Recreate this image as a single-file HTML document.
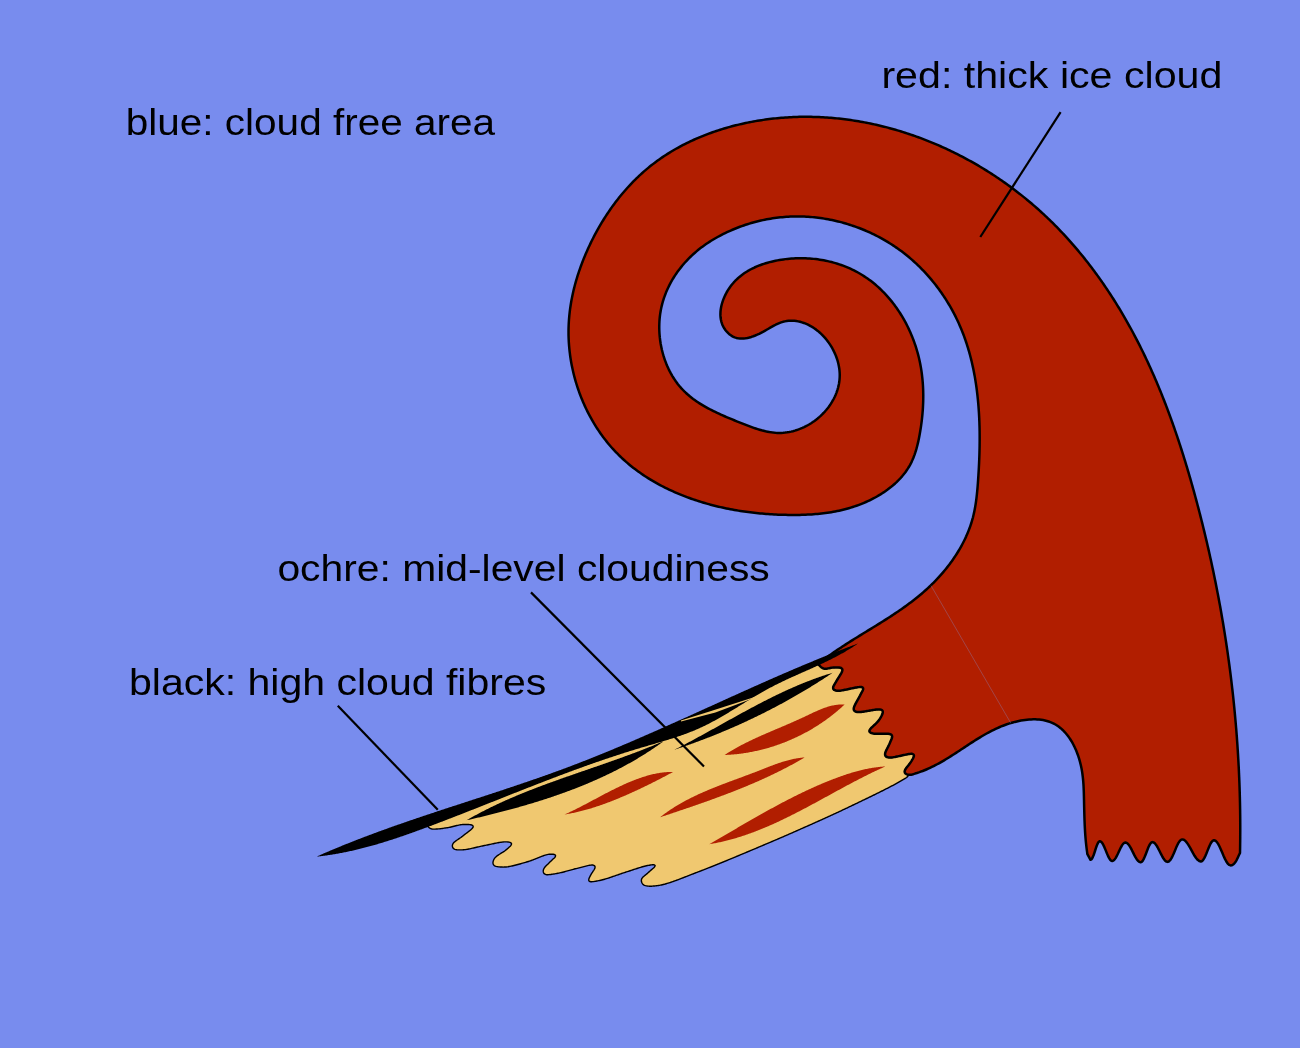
<!DOCTYPE html>
<html><head><meta charset="utf-8"><style>
html,body{margin:0;padding:0;background:#788cee;width:1300px;height:1048px;overflow:hidden}
svg{display:block;will-change:transform}
text{font-family:"Liberation Sans",sans-serif}
</style></head><body>
<svg width="1300" height="1048" viewBox="0 0 1300 1048">
<rect width="1300" height="1048" fill="#788cee"/>
<path d="M428.00,825.97 L428.91,825.55 L429.82,825.13 L430.72,824.70 L431.63,824.28 L432.53,823.86 L433.44,823.43 L434.34,823.00 L435.25,822.58 L436.15,822.15 L437.06,821.72 L437.96,821.29 L438.86,820.86 L439.77,820.43 L440.67,820.00 L441.57,819.57 L442.47,819.14 L443.38,818.71 L444.28,818.28 L445.18,817.85 L446.08,817.42 L446.99,816.99 L447.89,816.56 L448.79,816.13 L449.69,815.70 L450.60,815.27 L451.50,814.84 L452.40,814.41 L453.31,813.98 L454.21,813.55 L455.12,813.13 L456.02,812.70 L456.93,812.28 L457.83,811.85 L458.74,811.43 L459.64,811.01 L460.55,810.59 L461.46,810.17 L462.37,809.75 L463.27,809.33 L464.18,808.91 L465.09,808.50 L466.01,808.09 L466.92,807.67 L467.83,807.26 L468.74,806.86 L469.66,806.45 L470.57,806.04 L471.49,805.64 L472.40,805.24 L473.32,804.84 L474.24,804.44 L475.15,804.05 L476.07,803.66 L476.99,803.26 L477.92,802.88 L478.84,802.49 L479.76,802.10 L480.69,801.72 L481.61,801.34 L482.54,800.96 L483.46,800.59 L484.39,800.21 L485.32,799.84 L486.25,799.47 L487.17,799.10 L488.10,798.73 L489.03,798.36 L489.97,798.00 L490.90,797.63 L491.83,797.27 L492.76,796.91 L493.70,796.55 L494.63,796.19 L495.56,795.84 L496.50,795.48 L497.43,795.13 L498.37,794.77 L499.30,794.42 L500.24,794.07 L501.18,793.72 L502.11,793.37 L503.05,793.02 L503.99,792.68 L504.93,792.33 L505.87,791.98 L506.81,791.64 L507.74,791.29 L508.68,790.95 L509.62,790.61 L510.56,790.27 L511.50,789.93 L512.44,789.59 L513.38,789.25 L514.32,788.91 L515.27,788.57 L516.21,788.23 L517.15,787.89 L518.09,787.56 L519.03,787.22 L519.97,786.88 L520.91,786.55 L521.86,786.21 L522.80,785.88 L523.74,785.54 L524.68,785.21 L525.63,784.87 L526.57,784.54 L527.51,784.20 L528.45,783.87 L529.40,783.53 L530.34,783.20 L531.28,782.87 L532.22,782.53 L533.17,782.20 L534.11,781.87 L535.05,781.53 L536.00,781.20 L536.94,780.87 L537.88,780.53 L538.82,780.20 L539.77,779.86 L540.71,779.53 L541.65,779.19 L542.59,778.86 L543.53,778.52 L544.48,778.19 L545.42,777.85 L546.36,777.52 L547.30,777.18 L548.25,776.85 L549.19,776.52 L550.13,776.19 L551.08,775.86 L552.02,775.53 L552.97,775.20 L553.91,774.88 L554.86,774.55 L555.81,774.23 L556.75,773.91 L557.70,773.58 L558.65,773.26 L559.59,772.94 L560.54,772.62 L561.49,772.30 L562.43,771.98 L563.38,771.66 L564.33,771.34 L565.28,771.02 L566.23,770.71 L567.17,770.39 L568.12,770.07 L569.07,769.75 L570.02,769.43 L570.97,769.12 L571.92,768.80 L572.86,768.48 L573.81,768.16 L574.76,767.84 L575.71,767.52 L576.65,767.21 L577.60,766.89 L578.55,766.56 L579.50,766.24 L580.44,765.92 L581.39,765.60 L582.34,765.28 L583.28,764.95 L584.23,764.63 L585.17,764.30 L586.12,763.97 L587.06,763.65 L588.01,763.32 L588.95,762.99 L589.89,762.65 L590.84,762.32 L591.78,761.99 L592.72,761.65 L593.66,761.31 L594.60,760.97 L595.54,760.63 L596.48,760.29 L597.42,759.95 L598.36,759.60 L599.30,759.26 L600.24,758.91 L601.18,758.56 L602.11,758.21 L603.05,757.86 L603.99,757.51 L604.92,757.16 L605.86,756.81 L606.80,756.46 L607.73,756.11 L608.67,755.76 L609.61,755.41 L610.54,755.06 L611.48,754.70 L612.41,754.35 L613.35,754.00 L614.28,753.64 L615.22,753.29 L616.15,752.93 L617.09,752.58 L618.02,752.22 L618.96,751.87 L619.89,751.51 L620.82,751.15 L621.76,750.79 L622.69,750.43 L623.62,750.07 L624.56,749.71 L625.49,749.35 L626.42,748.99 L627.35,748.62 L628.28,748.26 L629.22,747.89 L630.15,747.53 L631.08,747.16 L632.01,746.79 L632.94,746.42 L633.86,746.05 L634.79,745.68 L635.72,745.31 L636.65,744.94 L637.58,744.56 L638.50,744.19 L639.43,743.81 L640.35,743.43 L641.28,743.05 L642.20,742.67 L643.13,742.29 L644.05,741.91 L644.98,741.52 L645.90,741.14 L646.82,740.75 L647.74,740.36 L648.66,739.97 L649.58,739.58 L650.50,739.18 L651.42,738.79 L652.34,738.39 L653.26,737.99 L654.17,737.59 L655.09,737.19 L656.00,736.79 L656.92,736.38 L657.83,735.97 L658.74,735.56 L659.65,735.15 L660.56,734.74 L661.47,734.32 L662.38,733.90 L663.28,733.47 L664.19,733.05 L665.09,732.62 L665.99,732.18 L666.89,731.75 L667.79,731.31 L668.69,730.86 L669.58,730.42 L670.48,729.97 L671.37,729.52 L672.26,729.07 L673.15,728.61 L674.04,728.16 L674.93,727.70 L675.82,727.24 L676.71,726.78 L677.59,726.31 L678.48,725.85 L679.36,725.38 L680.25,724.92 L681.13,724.45 L682.01,723.98 L682.90,723.51 L683.78,723.04 L684.66,722.57 L685.54,722.09 L686.42,721.62 L687.31,721.15 L688.19,720.68 L689.07,720.21 L689.95,719.73 L690.83,719.26 L691.71,718.79 L692.60,718.32 L693.48,717.85 L694.36,717.38 L695.25,716.91 L696.13,716.45 L697.02,715.98 L697.90,715.52 L698.79,715.05 L699.67,714.59 L700.56,714.13 L701.45,713.68 L702.34,713.22 L703.23,712.77 L704.13,712.32 L705.02,711.87 L705.91,711.42 L706.81,710.98 L707.71,710.54 L708.61,710.10 L709.51,709.66 L710.41,709.23 L711.31,708.80 L712.22,708.37 L713.12,707.95 L714.03,707.53 L714.94,707.11 L715.85,706.70 L716.76,706.28 L717.67,705.87 L718.58,705.46 L719.49,705.05 L720.41,704.64 L721.32,704.24 L722.24,703.84 L723.15,703.43 L724.07,703.03 L724.99,702.63 L725.90,702.24 L726.82,701.84 L727.74,701.45 L728.66,701.05 L729.58,700.66 L730.50,700.27 L731.42,699.88 L732.34,699.49 L733.27,699.10 L734.19,698.72 L735.11,698.33 L736.03,697.95 L736.96,697.56 L737.88,697.18 L738.80,696.80 L739.73,696.41 L740.65,696.03 L741.58,695.65 L742.50,695.27 L743.43,694.89 L744.35,694.51 L745.28,694.13 L746.20,693.76 L747.13,693.38 L748.06,693.00 L748.98,692.62 L749.91,692.25 L750.83,691.87 L751.76,691.49 L752.69,691.11 L753.61,690.74 L754.54,690.36 L755.46,689.98 L756.39,689.60 L757.32,689.23 L758.24,688.85 L759.17,688.47 L760.09,688.09 L761.02,687.71 L761.94,687.33 L762.87,686.95 L763.79,686.57 L764.72,686.19 L765.64,685.81 L766.57,685.43 L767.49,685.04 L768.41,684.66 L769.34,684.27 L770.26,683.88 L771.18,683.49 L772.09,683.09 L773.01,682.68 L773.92,682.27 L774.83,681.86 L775.74,681.44 L776.64,681.02 L777.55,680.59 L778.45,680.16 L779.35,679.73 L780.25,679.30 L781.15,678.86 L782.05,678.42 L782.95,677.98 L783.85,677.54 L784.74,677.10 L785.64,676.65 L786.54,676.21 L787.43,675.76 L788.33,675.32 L789.22,674.87 L790.12,674.43 L791.01,673.98 L791.91,673.54 L792.81,673.10 L793.71,672.66 L794.60,672.22 L795.50,671.78 L796.40,671.34 L797.30,670.91 L798.21,670.48 L799.11,670.05 L800.02,669.63 L800.92,669.21 L801.83,668.79 L802.75,668.38 L803.66,667.98 L804.58,667.58 L805.50,667.20 L806.43,666.81 L807.35,666.44 L808.29,666.09 L809.23,665.74 L810.17,665.41 L811.12,665.10 L812.08,664.82 L813.05,664.56 L814.02,664.34 L815.01,664.18 L816.00,664.08 L817.00,664.08 L817.99,664.22 L818.93,664.57 L819.76,665.11 L820.49,665.80 L821.14,666.56 L821.81,667.30 L822.57,667.95 L823.44,668.43 L824.40,668.69 L825.40,668.76 L826.40,668.70 L827.39,668.55 L828.37,668.36 L829.35,668.15 L830.32,667.94 L831.30,667.75 L832.29,667.60 L833.29,667.49 L834.28,667.43 L835.28,667.40 L836.28,667.39 L837.28,667.40 L838.28,667.43 L839.28,667.51 L840.27,667.67 L841.21,667.98 L842.01,668.57 L842.44,669.46 L842.43,670.46 L842.16,671.42 L841.75,672.33 L841.29,673.22 L840.78,674.08 L840.26,674.93 L839.72,675.78 L839.18,676.62 L838.64,677.46 L838.11,678.31 L837.59,679.16 L837.09,680.02 L836.59,680.89 L836.09,681.76 L835.58,682.62 L835.05,683.47 L834.53,684.32 L834.02,685.18 L833.55,686.06 L833.18,686.99 L833.03,687.97 L833.26,688.93 L833.89,689.70 L834.76,690.19 L835.71,690.50 L836.69,690.68 L837.68,690.77 L838.68,690.76 L839.68,690.69 L840.67,690.58 L841.66,690.43 L842.65,690.27 L843.63,690.09 L844.62,689.90 L845.60,689.70 L846.57,689.49 L847.55,689.29 L848.53,689.08 L849.51,688.87 L850.49,688.65 L851.46,688.44 L852.44,688.24 L853.42,688.03 L854.40,687.84 L855.38,687.65 L856.37,687.47 L857.35,687.30 L858.34,687.16 L859.34,687.04 L860.33,686.98 L861.33,687.01 L862.30,687.23 L863.07,687.84 L863.28,688.80 L863.05,689.77 L862.64,690.68 L862.17,691.56 L861.68,692.44 L861.21,693.32 L860.76,694.21 L860.30,695.10 L859.85,695.99 L859.37,696.87 L858.89,697.75 L858.40,698.62 L857.91,699.49 L857.41,700.36 L856.92,701.23 L856.43,702.10 L855.95,702.98 L855.49,703.86 L855.03,704.76 L854.60,705.66 L854.21,706.58 L853.88,707.52 L853.66,708.50 L853.66,709.49 L854.00,710.42 L854.68,711.15 L855.55,711.63 L856.51,711.92 L857.49,712.08 L858.49,712.14 L859.49,712.12 L860.49,712.04 L861.48,711.94 L862.47,711.80 L863.46,711.66 L864.45,711.50 L865.44,711.34 L866.42,711.17 L867.41,710.99 L868.39,710.82 L869.38,710.64 L870.36,710.47 L871.35,710.30 L872.33,710.14 L873.32,709.98 L874.31,709.83 L875.30,709.69 L876.29,709.57 L877.29,709.47 L878.29,709.40 L879.29,709.38 L880.28,709.44 L881.26,709.65 L882.13,710.12 L882.72,710.92 L882.88,711.90 L882.75,712.88 L882.46,713.84 L882.08,714.77 L881.65,715.67 L881.19,716.56 L880.70,717.43 L880.20,718.29 L879.67,719.14 L879.11,719.97 L878.51,720.77 L877.87,721.54 L877.19,722.28 L876.49,722.99 L875.78,723.69 L875.05,724.38 L874.32,725.06 L873.58,725.74 L872.85,726.41 L872.12,727.10 L871.41,727.80 L870.72,728.52 L870.08,729.29 L869.55,730.14 L869.32,731.10 L869.67,732.02 L870.44,732.64 L871.35,733.04 L872.31,733.32 L873.29,733.52 L874.28,733.67 L875.28,733.75 L876.28,733.79 L877.28,733.80 L878.28,733.79 L879.28,733.76 L880.27,733.74 L881.27,733.71 L882.27,733.68 L883.27,733.65 L884.27,733.63 L885.27,733.63 L886.27,733.63 L887.27,733.67 L888.27,733.74 L889.26,733.87 L890.23,734.10 L891.14,734.51 L891.85,735.21 L892.18,736.14 L892.15,737.13 L891.89,738.10 L891.54,739.03 L891.15,739.95 L890.75,740.87 L890.36,741.79 L889.98,742.72 L889.59,743.64 L889.17,744.55 L888.73,745.45 L888.28,746.34 L887.83,747.23 L887.37,748.12 L886.92,749.01 L886.47,749.91 L886.05,750.81 L885.65,751.73 L885.31,752.67 L885.06,753.64 L885.00,754.63 L885.24,755.59 L885.83,756.39 L886.67,756.93 L887.61,757.27 L888.59,757.46 L889.58,757.55 L890.58,757.55 L891.58,757.49 L892.57,757.37 L893.56,757.22 L894.54,757.04 L895.53,756.86 L896.51,756.66 L897.49,756.45 L898.46,756.24 L899.44,756.02 L900.41,755.80 L901.39,755.58 L902.37,755.36 L903.34,755.14 L904.32,754.93 L905.30,754.72 L906.28,754.52 L907.26,754.33 L908.24,754.16 L909.23,754.00 L910.22,753.88 L911.22,753.81 L912.22,753.85 L913.18,754.12 L913.88,754.81 L914.01,755.78 L913.78,756.75 L913.38,757.67 L912.91,758.55 L912.43,759.42 L911.93,760.29 L911.42,761.15 L910.88,762.00 L910.32,762.82 L909.72,763.63 L909.11,764.42 L908.49,765.20 L907.86,765.98 L907.24,766.76 L906.62,767.55 L906.03,768.35 L905.47,769.19 L904.99,770.06 L904.66,771.00 L904.67,771.99 L905.16,772.84 L905.97,773.42 L906.86,773.87 L907.71,774.39 L908.23,775.22 L907.96,776.16 L907.28,776.89 L906.50,777.51 L905.67,778.07 L904.82,778.59 L903.96,779.10 L903.09,779.60 L902.22,780.10 L901.36,780.60 L900.49,781.11 L899.63,781.61 L898.77,782.12 L897.90,782.62 L897.03,783.11 L896.16,783.60 L895.28,784.08 L894.41,784.56 L893.53,785.03 L892.64,785.51 L891.76,785.98 L890.88,786.44 L889.99,786.91 L889.10,787.37 L888.21,787.83 L887.33,788.28 L886.44,788.74 L885.54,789.19 L884.65,789.65 L883.76,790.10 L882.87,790.55 L881.97,791.00 L881.08,791.45 L880.19,791.89 L879.29,792.34 L878.39,792.78 L877.50,793.23 L876.60,793.67 L875.71,794.11 L874.81,794.56 L873.91,795.00 L873.01,795.44 L872.11,795.88 L871.22,796.32 L870.32,796.75 L869.42,797.19 L868.52,797.63 L867.62,798.07 L866.72,798.50 L865.82,798.94 L864.92,799.37 L864.02,799.81 L863.12,800.24 L862.22,800.68 L861.32,801.11 L860.41,801.54 L859.51,801.98 L858.61,802.41 L857.71,802.84 L856.81,803.27 L855.91,803.71 L855.00,804.14 L854.10,804.57 L853.20,805.00 L852.30,805.43 L851.39,805.86 L850.49,806.29 L849.59,806.72 L848.69,807.15 L847.78,807.58 L846.88,808.01 L845.98,808.44 L845.08,808.87 L844.17,809.30 L843.27,809.73 L842.36,810.16 L841.46,810.59 L840.56,811.01 L839.65,811.44 L838.75,811.86 L837.84,812.29 L836.93,812.71 L836.03,813.13 L835.12,813.55 L834.21,813.97 L833.30,814.39 L832.40,814.81 L831.49,815.23 L830.58,815.64 L829.67,816.06 L828.76,816.47 L827.85,816.89 L826.94,817.30 L826.03,817.72 L825.12,818.13 L824.21,818.54 L823.30,818.96 L822.38,819.37 L821.47,819.78 L820.56,820.19 L819.65,820.60 L818.74,821.01 L817.82,821.42 L816.91,821.82 L816.00,822.23 L815.08,822.64 L814.17,823.05 L813.26,823.45 L812.34,823.86 L811.43,824.27 L810.52,824.67 L809.60,825.08 L808.69,825.49 L807.77,825.89 L806.86,826.30 L805.95,826.70 L805.03,827.11 L804.12,827.51 L803.20,827.92 L802.29,828.32 L801.37,828.73 L800.46,829.13 L799.55,829.54 L798.63,829.94 L797.72,830.35 L796.80,830.75 L795.89,831.16 L794.97,831.56 L794.06,831.97 L793.14,832.37 L792.23,832.77 L791.31,833.18 L790.40,833.58 L789.48,833.98 L788.57,834.38 L787.65,834.78 L786.73,835.18 L785.82,835.58 L784.90,835.98 L783.98,836.38 L783.07,836.78 L782.15,837.18 L781.23,837.57 L780.31,837.97 L779.39,838.36 L778.47,838.76 L777.55,839.15 L776.64,839.55 L775.72,839.94 L774.80,840.33 L773.88,840.72 L772.96,841.11 L772.03,841.50 L771.11,841.89 L770.19,842.28 L769.27,842.67 L768.35,843.06 L767.43,843.45 L766.51,843.84 L765.59,844.23 L764.67,844.62 L763.75,845.01 L762.82,845.40 L761.90,845.79 L760.98,846.18 L760.06,846.57 L759.14,846.96 L758.22,847.35 L757.30,847.74 L756.38,848.13 L755.46,848.52 L754.53,848.90 L753.61,849.29 L752.69,849.68 L751.77,850.07 L750.85,850.46 L749.93,850.85 L749.01,851.24 L748.08,851.63 L747.16,852.01 L746.24,852.40 L745.32,852.79 L744.40,853.18 L743.48,853.56 L742.55,853.95 L741.63,854.34 L740.71,854.72 L739.79,855.11 L738.86,855.49 L737.94,855.88 L737.02,856.26 L736.09,856.65 L735.17,857.03 L734.25,857.42 L733.32,857.80 L732.40,858.19 L731.48,858.57 L730.55,858.95 L729.63,859.33 L728.71,859.72 L727.78,860.10 L726.86,860.48 L725.93,860.86 L725.01,861.24 L724.08,861.62 L723.16,862.00 L722.23,862.38 L721.30,862.75 L720.38,863.13 L719.45,863.51 L718.53,863.88 L717.60,864.26 L716.67,864.64 L715.74,865.01 L714.82,865.38 L713.89,865.76 L712.96,866.13 L712.03,866.50 L711.10,866.87 L710.17,867.24 L709.24,867.61 L708.31,867.97 L707.38,868.34 L706.45,868.70 L705.52,869.07 L704.59,869.43 L703.66,869.79 L702.72,870.15 L701.79,870.51 L700.86,870.87 L699.92,871.22 L698.99,871.58 L698.05,871.94 L697.12,872.29 L696.18,872.65 L695.25,873.01 L694.32,873.37 L693.39,873.74 L692.46,874.10 L691.52,874.46 L690.59,874.83 L689.66,875.19 L688.73,875.56 L687.80,875.93 L686.87,876.29 L685.94,876.66 L685.01,877.02 L684.08,877.39 L683.14,877.75 L682.21,878.11 L681.28,878.47 L680.35,878.83 L679.41,879.18 L678.48,879.54 L677.54,879.89 L676.60,880.24 L675.66,880.58 L674.72,880.92 L673.78,881.26 L672.84,881.59 L671.89,881.92 L670.94,882.24 L670.00,882.55 L669.04,882.86 L668.09,883.16 L667.13,883.45 L666.17,883.73 L665.21,884.01 L664.25,884.26 L663.28,884.51 L662.30,884.74 L661.33,884.96 L660.35,885.16 L659.36,885.34 L658.38,885.50 L657.39,885.64 L656.40,885.77 L655.40,885.89 L654.41,885.99 L653.41,886.07 L652.41,886.14 L651.41,886.18 L650.41,886.21 L649.41,886.20 L648.42,886.15 L647.42,886.06 L646.43,885.90 L645.46,885.66 L644.52,885.32 L643.65,884.83 L642.88,884.19 L642.25,883.42 L641.78,882.54 L641.46,881.60 L641.34,880.61 L641.45,879.61 L641.79,878.68 L642.33,877.84 L642.99,877.09 L643.72,876.41 L644.49,875.77 L645.27,875.14 L646.05,874.51 L646.81,873.87 L647.56,873.21 L648.31,872.54 L649.05,871.87 L649.80,871.21 L650.55,870.55 L651.31,869.90 L652.06,869.24 L652.81,868.58 L653.55,867.90 L654.25,867.18 L654.85,866.39 L655.10,865.45 L654.38,864.83 L653.39,864.72 L652.39,864.77 L651.40,864.89 L650.41,865.03 L649.43,865.20 L648.44,865.38 L647.46,865.56 L646.48,865.77 L645.50,865.99 L644.53,866.23 L643.57,866.48 L642.60,866.75 L641.64,867.03 L640.68,867.32 L639.73,867.61 L638.77,867.91 L637.82,868.21 L636.87,868.52 L635.92,868.83 L634.97,869.14 L634.02,869.46 L633.07,869.77 L632.12,870.08 L631.17,870.40 L630.22,870.71 L629.27,871.02 L628.32,871.33 L627.37,871.63 L626.41,871.93 L625.46,872.24 L624.51,872.55 L623.56,872.86 L622.61,873.17 L621.66,873.49 L620.72,873.82 L619.77,874.14 L618.83,874.47 L617.88,874.80 L616.94,875.13 L615.99,875.46 L615.05,875.79 L614.11,876.12 L613.16,876.45 L612.22,876.78 L611.27,877.10 L610.32,877.42 L609.37,877.74 L608.42,878.05 L607.47,878.36 L606.52,878.66 L605.56,878.95 L604.61,879.24 L603.64,879.52 L602.68,879.78 L601.71,880.03 L600.74,880.26 L599.76,880.47 L598.78,880.67 L597.80,880.86 L596.82,881.04 L595.83,881.22 L594.84,881.38 L593.86,881.53 L592.86,881.65 L591.87,881.72 L590.87,881.70 L589.89,881.52 L589.06,880.97 L588.72,880.06 L588.84,879.07 L589.18,878.13 L589.59,877.22 L590.04,876.33 L590.50,875.44 L590.98,874.56 L591.49,873.70 L592.02,872.85 L592.57,872.02 L593.13,871.19 L593.69,870.36 L594.22,869.51 L594.69,868.63 L595.02,867.69 L595.05,866.70 L594.59,865.83 L593.76,865.29 L592.79,865.05 L591.79,865.02 L590.79,865.10 L589.80,865.25 L588.82,865.43 L587.84,865.64 L586.87,865.87 L585.90,866.11 L584.93,866.36 L583.96,866.61 L583.00,866.86 L582.03,867.12 L581.06,867.37 L580.09,867.61 L579.12,867.86 L578.15,868.09 L577.18,868.33 L576.21,868.56 L575.23,868.80 L574.27,869.05 L573.30,869.31 L572.33,869.57 L571.37,869.83 L570.41,870.10 L569.44,870.37 L568.48,870.64 L567.52,870.90 L566.55,871.17 L565.59,871.44 L564.62,871.70 L563.66,871.95 L562.69,872.20 L561.72,872.45 L560.74,872.68 L559.77,872.90 L558.79,873.11 L557.81,873.30 L556.83,873.48 L555.84,873.65 L554.85,873.82 L553.87,873.98 L552.88,874.14 L551.89,874.30 L550.90,874.44 L549.91,874.57 L548.92,874.67 L547.92,874.73 L546.92,874.71 L545.93,874.57 L544.99,874.24 L544.19,873.65 L543.62,872.84 L543.31,871.89 L543.24,870.89 L543.39,869.91 L543.72,868.97 L544.21,868.09 L544.79,867.28 L545.44,866.52 L546.12,865.79 L546.83,865.08 L547.55,864.39 L548.27,863.70 L548.99,863.00 L549.71,862.30 L550.41,861.60 L551.12,860.89 L551.84,860.19 L552.57,859.51 L553.30,858.83 L554.03,858.15 L554.73,857.43 L555.33,856.63 L555.57,855.68 L555.04,854.87 L554.14,854.46 L553.16,854.27 L552.16,854.18 L551.16,854.16 L550.16,854.18 L549.17,854.27 L548.18,854.41 L547.19,854.60 L546.22,854.84 L545.26,855.11 L544.31,855.42 L543.36,855.75 L542.43,856.09 L541.49,856.45 L540.56,856.81 L539.63,857.18 L538.71,857.56 L537.78,857.94 L536.85,858.32 L535.93,858.69 L535.00,859.07 L534.07,859.44 L533.14,859.80 L532.21,860.16 L531.27,860.51 L530.33,860.84 L529.38,861.16 L528.43,861.46 L527.47,861.76 L526.51,862.04 L525.55,862.32 L524.59,862.61 L523.63,862.89 L522.67,863.17 L521.71,863.44 L520.75,863.72 L519.79,863.99 L518.83,864.26 L517.86,864.53 L516.90,864.79 L515.93,865.04 L514.96,865.29 L513.99,865.53 L513.02,865.76 L512.04,865.98 L511.06,866.18 L510.08,866.37 L509.09,866.55 L508.11,866.71 L507.12,866.84 L506.12,866.94 L505.12,867.02 L504.13,867.06 L503.13,867.08 L502.13,867.07 L501.13,867.04 L500.13,866.98 L499.13,866.90 L498.14,866.78 L497.15,866.61 L496.18,866.38 L495.24,866.05 L494.36,865.58 L493.63,864.90 L493.16,864.02 L492.97,863.05 L493.02,862.05 L493.24,861.07 L493.57,860.13 L494.01,859.23 L494.54,858.38 L495.16,857.60 L495.86,856.89 L496.62,856.24 L497.41,855.63 L498.23,855.06 L499.07,854.51 L499.92,853.98 L500.77,853.46 L501.62,852.93 L502.47,852.40 L503.31,851.87 L504.14,851.31 L504.96,850.73 L505.75,850.12 L506.53,849.49 L507.29,848.85 L508.05,848.19 L508.80,847.53 L509.54,846.86 L510.25,846.16 L510.91,845.40 L511.41,844.54 L511.48,843.56 L510.88,842.80 L509.98,842.37 L509.01,842.13 L508.02,841.98 L507.03,841.89 L506.03,841.84 L505.03,841.85 L504.03,841.89 L503.03,841.97 L502.04,842.08 L501.05,842.21 L500.06,842.37 L499.07,842.53 L498.09,842.71 L497.11,842.90 L496.13,843.09 L495.15,843.29 L494.17,843.50 L493.19,843.71 L492.21,843.92 L491.23,844.13 L490.26,844.34 L489.28,844.55 L488.30,844.75 L487.32,844.96 L486.34,845.16 L485.36,845.35 L484.38,845.55 L483.40,845.74 L482.42,845.94 L481.44,846.15 L480.47,846.37 L479.49,846.59 L478.52,846.82 L477.54,847.05 L476.57,847.28 L475.60,847.51 L474.62,847.74 L473.65,847.97 L472.67,848.19 L471.70,848.41 L470.72,848.62 L469.74,848.83 L468.76,849.02 L467.78,849.20 L466.79,849.36 L465.80,849.51 L464.81,849.63 L463.81,849.72 L462.82,849.80 L461.82,849.85 L460.82,849.88 L459.82,849.90 L458.82,849.90 L457.82,849.87 L456.82,849.78 L455.84,849.62 L454.88,849.34 L453.99,848.90 L453.23,848.24 L452.69,847.40 L452.40,846.45 L452.36,845.46 L452.59,844.49 L453.04,843.60 L453.65,842.81 L454.36,842.11 L455.13,841.47 L455.93,840.86 L456.74,840.29 L457.57,839.72 L458.40,839.16 L459.23,838.61 L460.06,838.04 L460.88,837.47 L461.68,836.88 L462.48,836.28 L463.26,835.66 L464.05,835.03 L464.83,834.41 L465.62,833.80 L466.41,833.19 L467.21,832.58 L468.00,831.98 L468.80,831.36 L469.58,830.75 L470.36,830.12 L471.12,829.47 L471.85,828.79 L472.53,828.05 L473.07,827.22 L473.18,826.24 L472.61,825.46 L471.71,825.03 L470.74,824.80 L469.75,824.66 L468.75,824.57 L467.75,824.52 L466.75,824.49 L465.75,824.47 L464.75,824.48 L463.75,824.51 L462.75,824.56 L461.76,824.64 L460.77,824.76 L459.78,824.92 L458.79,825.10 L457.82,825.31 L456.84,825.54 L455.87,825.78 L454.90,826.02 L453.93,826.27 L452.96,826.52 L451.99,826.76 L451.02,826.99 L450.05,827.21 L449.07,827.41 L448.08,827.59 L447.10,827.75 L446.11,827.90 L445.12,828.04 L444.13,828.18 L443.14,828.32 L442.14,828.45 L441.15,828.58 L440.16,828.70 L439.17,828.82 L438.17,828.92 L437.18,829.00 L436.18,829.07 L435.18,829.12 L434.18,829.12 L433.18,829.08 L432.19,828.97 L431.21,828.75 L430.28,828.38 L429.42,827.87 L428.64,827.25 L427.90,826.58Z" fill="#f0c870" stroke="#000" stroke-width="1.4"/>
<path d="M724.60,755.00 L725.44,754.45 L726.28,753.90 L727.13,753.36 L727.98,752.82 L728.83,752.29 L729.69,751.77 L730.54,751.25 L731.40,750.73 L732.26,750.22 L733.13,749.71 L734.00,749.21 L734.87,748.71 L735.74,748.22 L736.61,747.73 L737.49,747.24 L738.37,746.76 L739.25,746.28 L740.13,745.81 L741.02,745.34 L741.90,744.87 L742.79,744.41 L743.68,743.95 L744.58,743.50 L745.47,743.04 L746.37,742.59 L747.27,742.15 L748.17,741.70 L749.07,741.26 L749.97,740.83 L750.88,740.39 L751.79,739.96 L752.69,739.53 L753.60,739.10 L754.52,738.68 L755.43,738.26 L756.34,737.84 L757.26,737.42 L758.17,737.00 L759.09,736.59 L760.01,736.18 L760.93,735.77 L761.85,735.36 L762.77,734.95 L763.70,734.54 L764.62,734.14 L765.54,733.74 L766.47,733.33 L767.40,732.93 L768.32,732.53 L769.25,732.13 L770.18,731.73 L771.11,731.34 L772.04,730.94 L772.97,730.54 L773.90,730.15 L774.83,729.75 L775.76,729.36 L776.69,728.96 L777.62,728.56 L778.56,728.17 L779.49,727.77 L780.42,727.38 L781.35,726.98 L782.29,726.59 L783.22,726.19 L784.15,725.79 L785.08,725.39 L786.02,724.99 L786.95,724.59 L787.88,724.19 L788.81,723.79 L789.74,723.39 L790.67,722.99 L791.60,722.58 L792.53,722.17 L793.46,721.76 L794.39,721.35 L795.32,720.94 L796.25,720.53 L797.18,720.11 L798.10,719.70 L799.03,719.28 L799.96,718.86 L800.88,718.43 L801.80,718.01 L802.73,717.58 L803.65,717.15 L804.57,716.71 L805.49,716.28 L806.41,715.84 L807.32,715.40 L808.24,714.97 L809.16,714.53 L810.07,714.09 L810.99,713.66 L811.91,713.23 L812.82,712.80 L813.74,712.37 L814.65,711.95 L815.57,711.54 L816.48,711.13 L817.40,710.72 L818.32,710.32 L819.24,709.93 L820.15,709.55 L821.07,709.18 L821.99,708.82 L822.91,708.46 L823.84,708.12 L824.76,707.79 L825.68,707.47 L826.61,707.16 L827.54,706.86 L828.47,706.58 L829.40,706.31 L830.33,706.06 L831.26,705.82 L832.20,705.60 L833.14,705.40 L834.08,705.21 L835.02,705.05 L835.97,704.90 L836.92,704.77 L837.87,704.66 L838.82,704.57 L839.77,704.50 L840.73,704.45 L841.70,704.43 L842.66,704.43 L843.63,704.45 L844.60,704.50 L843.87,705.19 L843.14,705.87 L842.40,706.54 L841.66,707.22 L840.92,707.88 L840.17,708.55 L839.42,709.21 L838.66,709.87 L837.90,710.52 L837.13,711.17 L836.37,711.81 L835.59,712.45 L834.82,713.09 L834.04,713.72 L833.25,714.35 L832.47,714.97 L831.68,715.59 L830.88,716.20 L830.08,716.81 L829.28,717.42 L828.47,718.02 L827.67,718.62 L826.85,719.21 L826.04,719.80 L825.22,720.39 L824.39,720.97 L823.57,721.55 L822.74,722.12 L821.91,722.69 L821.07,723.25 L820.23,723.81 L819.39,724.36 L818.54,724.91 L817.69,725.46 L816.84,726.00 L815.99,726.54 L815.13,727.07 L814.27,727.60 L813.40,728.12 L812.54,728.64 L811.67,729.15 L810.79,729.66 L809.92,730.17 L809.04,730.67 L808.16,731.16 L807.27,731.65 L806.39,732.14 L805.50,732.62 L804.61,733.10 L803.71,733.57 L802.81,734.04 L801.92,734.50 L801.01,734.96 L800.11,735.41 L799.20,735.86 L798.29,736.31 L797.38,736.75 L796.47,737.18 L795.55,737.61 L794.63,738.03 L793.71,738.45 L792.79,738.87 L791.86,739.28 L790.93,739.69 L790.00,740.09 L789.07,740.48 L788.14,740.87 L787.20,741.26 L786.26,741.64 L785.32,742.01 L784.38,742.39 L783.44,742.75 L782.49,743.11 L781.55,743.47 L780.60,743.82 L779.65,744.16 L778.69,744.50 L777.74,744.84 L776.78,745.17 L775.83,745.50 L774.87,745.82 L773.91,746.13 L772.94,746.44 L771.98,746.75 L771.01,747.05 L770.05,747.34 L769.08,747.63 L768.11,747.91 L767.14,748.19 L766.17,748.46 L765.19,748.73 L764.22,749.00 L763.24,749.25 L762.27,749.51 L761.29,749.75 L760.31,749.99 L759.33,750.23 L758.35,750.46 L757.37,750.69 L756.38,750.91 L755.40,751.12 L754.41,751.33 L753.43,751.53 L752.44,751.73 L751.45,751.92 L750.46,752.11 L749.47,752.29 L748.48,752.47 L747.49,752.64 L746.50,752.80 L745.51,752.96 L744.52,753.12 L743.53,753.27 L742.53,753.41 L741.54,753.55 L740.54,753.68 L739.55,753.80 L738.55,753.92 L737.56,754.04 L736.56,754.15 L735.57,754.25 L734.57,754.35 L733.57,754.44 L732.58,754.52 L731.58,754.60 L730.58,754.68 L729.59,754.75 L728.59,754.81 L727.59,754.87 L726.59,754.92 L725.60,754.96 L724.60,755.00Z" fill="#b11e00"/>
<path d="M660.00,817.30 L660.80,816.66 L661.61,816.04 L662.42,815.41 L663.23,814.80 L664.05,814.19 L664.87,813.59 L665.69,812.99 L666.52,812.40 L667.35,811.81 L668.18,811.23 L669.01,810.66 L669.85,810.09 L670.69,809.53 L671.53,808.98 L672.38,808.43 L673.23,807.88 L674.08,807.34 L674.93,806.81 L675.79,806.28 L676.65,805.76 L677.51,805.24 L678.37,804.72 L679.24,804.21 L680.11,803.71 L680.98,803.21 L681.85,802.72 L682.73,802.23 L683.61,801.74 L684.49,801.26 L685.37,800.79 L686.26,800.32 L687.15,799.85 L688.04,799.39 L688.93,798.93 L689.82,798.47 L690.72,798.02 L691.61,797.57 L692.51,797.13 L693.42,796.69 L694.32,796.25 L695.23,795.82 L696.13,795.39 L697.04,794.97 L697.95,794.54 L698.86,794.12 L699.78,793.71 L700.69,793.30 L701.61,792.89 L702.53,792.48 L703.45,792.07 L704.37,791.67 L705.30,791.27 L706.22,790.88 L707.15,790.49 L708.07,790.09 L709.00,789.71 L709.93,789.32 L710.86,788.94 L711.80,788.56 L712.73,788.18 L713.67,787.80 L714.60,787.42 L715.54,787.05 L716.48,786.68 L717.42,786.31 L718.36,785.94 L719.30,785.57 L720.24,785.21 L721.18,784.84 L722.12,784.48 L723.07,784.12 L724.01,783.76 L724.96,783.40 L725.91,783.04 L726.85,782.68 L727.80,782.33 L728.75,781.97 L729.70,781.62 L730.65,781.26 L731.60,780.91 L732.55,780.55 L733.50,780.20 L734.45,779.85 L735.40,779.50 L736.35,779.14 L737.30,778.79 L738.25,778.44 L739.21,778.09 L740.16,777.74 L741.11,777.38 L742.06,777.03 L743.02,776.68 L743.97,776.32 L744.92,775.97 L745.87,775.62 L746.83,775.26 L747.78,774.90 L748.73,774.55 L749.68,774.19 L750.63,773.83 L751.58,773.47 L752.53,773.11 L753.48,772.75 L754.43,772.39 L755.38,772.02 L756.33,771.65 L757.28,771.29 L758.23,770.92 L759.18,770.55 L760.12,770.17 L761.07,769.80 L762.02,769.43 L762.96,769.06 L763.91,768.68 L764.85,768.31 L765.80,767.94 L766.74,767.57 L767.69,767.20 L768.63,766.83 L769.57,766.47 L770.52,766.11 L771.46,765.75 L772.40,765.39 L773.35,765.04 L774.29,764.69 L775.23,764.34 L776.18,764.00 L777.12,763.67 L778.06,763.34 L779.01,763.01 L779.95,762.69 L780.89,762.38 L781.83,762.07 L782.78,761.77 L783.72,761.48 L784.67,761.20 L785.61,760.92 L786.56,760.65 L787.50,760.39 L788.45,760.13 L789.39,759.89 L790.34,759.66 L791.28,759.43 L792.23,759.22 L793.18,759.01 L794.13,758.82 L795.08,758.64 L796.03,758.47 L796.97,758.31 L797.93,758.16 L798.88,758.03 L799.83,757.90 L800.78,757.79 L801.73,757.70 L802.69,757.62 L803.64,757.55 L804.60,757.50 L803.74,758.01 L802.88,758.52 L802.02,759.02 L801.15,759.52 L800.29,760.02 L799.42,760.52 L798.55,761.01 L797.68,761.50 L796.81,761.99 L795.93,762.48 L795.06,762.97 L794.19,763.45 L793.31,763.93 L792.43,764.41 L791.55,764.89 L790.67,765.36 L789.79,765.83 L788.90,766.30 L788.02,766.77 L787.13,767.24 L786.25,767.70 L785.36,768.16 L784.47,768.62 L783.58,769.08 L782.69,769.54 L781.79,769.99 L780.90,770.44 L780.00,770.89 L779.11,771.34 L778.21,771.78 L777.31,772.23 L776.41,772.67 L775.51,773.11 L774.61,773.55 L773.70,773.98 L772.80,774.42 L771.89,774.85 L770.99,775.28 L770.08,775.71 L769.17,776.14 L768.26,776.56 L767.35,776.99 L766.44,777.41 L765.53,777.83 L764.61,778.25 L763.70,778.66 L762.78,779.08 L761.87,779.49 L760.95,779.90 L760.03,780.31 L759.11,780.72 L758.19,781.13 L757.27,781.53 L756.35,781.93 L755.43,782.34 L754.51,782.74 L753.58,783.13 L752.66,783.53 L751.73,783.93 L750.80,784.32 L749.88,784.71 L748.95,785.10 L748.02,785.49 L747.09,785.88 L746.16,786.27 L745.23,786.65 L744.30,787.04 L743.37,787.42 L742.43,787.80 L741.50,788.18 L740.57,788.56 L739.63,788.94 L738.70,789.31 L737.76,789.69 L736.82,790.06 L735.89,790.43 L734.95,790.80 L734.01,791.17 L733.07,791.54 L732.13,791.90 L731.19,792.27 L730.25,792.63 L729.31,793.00 L728.37,793.36 L727.43,793.72 L726.48,794.08 L725.54,794.44 L724.60,794.80 L723.65,795.15 L722.71,795.51 L721.76,795.86 L720.82,796.21 L719.87,796.57 L718.93,796.92 L717.98,797.27 L717.03,797.62 L716.09,797.96 L715.14,798.31 L714.19,798.66 L713.24,799.00 L712.29,799.35 L711.35,799.69 L710.40,800.03 L709.45,800.38 L708.50,800.72 L707.55,801.06 L706.60,801.40 L705.65,801.73 L704.70,802.07 L703.75,802.41 L702.80,802.74 L701.84,803.08 L700.89,803.41 L699.94,803.75 L698.99,804.08 L698.04,804.41 L697.09,804.74 L696.14,805.08 L695.18,805.41 L694.23,805.74 L693.28,806.06 L692.33,806.39 L691.37,806.72 L690.42,807.05 L689.47,807.38 L688.52,807.70 L687.57,808.03 L686.61,808.35 L685.66,808.68 L684.71,809.00 L683.76,809.32 L682.80,809.65 L681.85,809.97 L680.90,810.29 L679.95,810.61 L679.00,810.94 L678.05,811.26 L677.09,811.58 L676.14,811.90 L675.19,812.22 L674.24,812.54 L673.29,812.86 L672.34,813.18 L671.39,813.49 L670.44,813.81 L669.49,814.13 L668.54,814.45 L667.59,814.77 L666.64,815.08 L665.69,815.40 L664.74,815.72 L663.79,816.03 L662.84,816.35 L661.90,816.67 L660.95,816.98 L660.00,817.30Z" fill="#b11e00"/>
<path d="M564.50,814.50 L565.39,814.10 L566.29,813.70 L567.18,813.29 L568.08,812.88 L568.97,812.46 L569.87,812.04 L570.76,811.62 L571.66,811.19 L572.55,810.76 L573.45,810.32 L574.34,809.88 L575.24,809.44 L576.14,808.99 L577.03,808.55 L577.93,808.09 L578.82,807.64 L579.72,807.18 L580.62,806.72 L581.51,806.26 L582.41,805.80 L583.31,805.33 L584.21,804.86 L585.10,804.39 L586.00,803.92 L586.90,803.44 L587.80,802.97 L588.70,802.49 L589.60,802.01 L590.50,801.54 L591.40,801.06 L592.30,800.58 L593.20,800.09 L594.11,799.61 L595.01,799.13 L595.91,798.65 L596.81,798.17 L597.72,797.68 L598.62,797.20 L599.53,796.72 L600.43,796.24 L601.34,795.76 L602.25,795.28 L603.15,794.80 L604.06,794.32 L604.97,793.85 L605.88,793.37 L606.79,792.90 L607.70,792.43 L608.61,791.96 L609.52,791.49 L610.43,791.02 L611.35,790.56 L612.26,790.10 L613.18,789.64 L614.09,789.18 L615.01,788.72 L615.93,788.27 L616.85,787.82 L617.76,787.38 L618.68,786.94 L619.60,786.50 L620.53,786.06 L621.45,785.63 L622.37,785.20 L623.30,784.78 L624.22,784.36 L625.15,783.94 L626.07,783.53 L627.00,783.12 L627.93,782.72 L628.86,782.32 L629.79,781.93 L630.73,781.54 L631.66,781.16 L632.59,780.79 L633.53,780.41 L634.47,780.05 L635.40,779.69 L636.34,779.33 L637.28,778.98 L638.22,778.64 L639.17,778.31 L640.11,777.98 L641.05,777.65 L642.00,777.34 L642.95,777.03 L643.90,776.72 L644.85,776.43 L645.80,776.14 L646.75,775.86 L647.70,775.59 L648.66,775.32 L649.61,775.06 L650.57,774.82 L651.53,774.58 L652.49,774.34 L653.45,774.12 L654.41,773.91 L655.38,773.71 L656.35,773.52 L657.31,773.33 L658.28,773.16 L659.25,773.00 L660.22,772.85 L661.20,772.71 L662.17,772.58 L663.15,772.47 L664.13,772.36 L665.11,772.27 L666.09,772.19 L667.07,772.12 L668.05,772.07 L669.04,772.03 L670.03,772.00 L671.02,771.98 L672.01,771.98 L673.00,772.00 L672.14,772.47 L671.27,772.93 L670.41,773.40 L669.54,773.86 L668.67,774.32 L667.80,774.78 L666.93,775.25 L666.05,775.71 L665.18,776.17 L664.30,776.63 L663.42,777.09 L662.54,777.55 L661.66,778.01 L660.78,778.46 L659.90,778.92 L659.02,779.38 L658.13,779.83 L657.25,780.29 L656.36,780.74 L655.47,781.19 L654.58,781.64 L653.69,782.10 L652.80,782.55 L651.90,782.99 L651.01,783.44 L650.11,783.89 L649.21,784.33 L648.32,784.78 L647.42,785.22 L646.52,785.66 L645.61,786.10 L644.71,786.54 L643.81,786.98 L642.90,787.41 L641.99,787.85 L641.09,788.28 L640.18,788.71 L639.27,789.14 L638.36,789.57 L637.45,790.00 L636.54,790.42 L635.62,790.85 L634.71,791.27 L633.79,791.69 L632.87,792.11 L631.96,792.53 L631.04,792.94 L630.12,793.35 L629.20,793.76 L628.28,794.17 L627.35,794.58 L626.43,794.98 L625.51,795.39 L624.58,795.79 L623.65,796.19 L622.73,796.58 L621.80,796.98 L620.87,797.37 L619.94,797.76 L619.01,798.15 L618.08,798.53 L617.15,798.91 L616.21,799.29 L615.28,799.67 L614.34,800.05 L613.41,800.42 L612.47,800.79 L611.53,801.16 L610.60,801.52 L609.66,801.89 L608.72,802.25 L607.78,802.60 L606.84,802.95 L605.89,803.30 L604.95,803.65 L604.01,804.00 L603.06,804.34 L602.11,804.67 L601.17,805.01 L600.22,805.34 L599.27,805.66 L598.32,805.99 L597.37,806.31 L596.42,806.62 L595.47,806.93 L594.52,807.24 L593.56,807.55 L592.61,807.85 L591.65,808.14 L590.69,808.43 L589.74,808.72 L588.78,809.01 L587.82,809.28 L586.86,809.56 L585.90,809.83 L584.93,810.09 L583.97,810.36 L583.01,810.61 L582.04,810.86 L581.08,811.11 L580.11,811.35 L579.14,811.59 L578.17,811.82 L577.20,812.05 L576.23,812.27 L575.26,812.49 L574.29,812.70 L573.31,812.90 L572.34,813.10 L571.36,813.30 L570.38,813.49 L569.41,813.67 L568.43,813.85 L567.45,814.02 L566.47,814.19 L565.48,814.35 L564.50,814.50Z" fill="#b11e00"/>
<path d="M709.20,844.20 L710.06,843.71 L710.92,843.21 L711.78,842.72 L712.65,842.22 L713.51,841.72 L714.37,841.22 L715.23,840.73 L716.10,840.23 L716.96,839.73 L717.82,839.23 L718.69,838.73 L719.55,838.23 L720.42,837.72 L721.28,837.22 L722.15,836.72 L723.01,836.22 L723.88,835.71 L724.74,835.21 L725.61,834.70 L726.48,834.20 L727.34,833.69 L728.21,833.19 L729.08,832.68 L729.95,832.18 L730.82,831.67 L731.69,831.17 L732.55,830.66 L733.42,830.15 L734.29,829.65 L735.16,829.14 L736.04,828.63 L736.91,828.13 L737.78,827.62 L738.65,827.11 L739.52,826.61 L740.40,826.10 L741.27,825.59 L742.14,825.09 L743.02,824.58 L743.89,824.07 L744.77,823.57 L745.64,823.06 L746.52,822.56 L747.39,822.05 L748.27,821.55 L749.15,821.04 L750.02,820.54 L750.90,820.04 L751.78,819.53 L752.66,819.03 L753.54,818.53 L754.42,818.03 L755.30,817.52 L756.18,817.02 L757.06,816.52 L757.94,816.02 L758.83,815.52 L759.71,815.03 L760.59,814.53 L761.48,814.03 L762.36,813.53 L763.25,813.04 L764.13,812.54 L765.02,812.05 L765.90,811.56 L766.79,811.06 L767.68,810.57 L768.57,810.08 L769.45,809.59 L770.34,809.10 L771.23,808.62 L772.12,808.13 L773.02,807.64 L773.91,807.16 L774.80,806.67 L775.69,806.19 L776.59,805.71 L777.48,805.23 L778.37,804.75 L779.27,804.27 L780.17,803.79 L781.06,803.32 L781.96,802.84 L782.86,802.37 L783.75,801.90 L784.65,801.43 L785.55,800.96 L786.45,800.49 L787.35,800.03 L788.26,799.56 L789.16,799.10 L790.06,798.64 L790.96,798.18 L791.87,797.72 L792.77,797.26 L793.68,796.81 L794.58,796.35 L795.49,795.90 L796.40,795.45 L797.31,795.00 L798.22,794.55 L799.13,794.11 L800.04,793.67 L800.95,793.22 L801.86,792.78 L802.77,792.35 L803.68,791.91 L804.60,791.48 L805.51,791.04 L806.43,790.61 L807.34,790.18 L808.26,789.76 L809.18,789.33 L810.10,788.91 L811.02,788.49 L811.94,788.07 L812.86,787.66 L813.78,787.24 L814.70,786.83 L815.62,786.42 L816.55,786.02 L817.47,785.61 L818.40,785.21 L819.32,784.81 L820.25,784.41 L821.18,784.02 L822.11,783.62 L823.04,783.23 L823.97,782.84 L824.90,782.46 L825.83,782.07 L826.76,781.69 L827.70,781.32 L828.63,780.94 L829.57,780.57 L830.50,780.20 L831.44,779.83 L832.38,779.46 L833.32,779.10 L834.26,778.74 L835.20,778.39 L836.14,778.03 L837.08,777.68 L838.02,777.33 L838.97,776.99 L839.91,776.65 L840.86,776.31 L841.81,775.97 L842.75,775.64 L843.70,775.31 L844.65,774.99 L845.60,774.67 L846.55,774.35 L847.50,774.04 L848.46,773.74 L849.41,773.43 L850.36,773.14 L851.32,772.84 L852.27,772.55 L853.23,772.27 L854.19,771.99 L855.15,771.72 L856.10,771.45 L857.06,771.19 L858.02,770.93 L858.98,770.68 L859.95,770.43 L860.91,770.19 L861.87,769.96 L862.84,769.73 L863.80,769.51 L864.77,769.30 L865.73,769.09 L866.70,768.89 L867.67,768.69 L868.64,768.51 L869.61,768.33 L870.57,768.15 L871.55,767.99 L872.52,767.83 L873.49,767.68 L874.46,767.53 L875.43,767.40 L876.41,767.27 L877.38,767.15 L878.36,767.04 L879.33,766.93 L880.31,766.84 L881.29,766.75 L882.26,766.67 L883.24,766.60 L884.22,766.54 L885.20,766.50 L884.30,766.91 L883.40,767.31 L882.50,767.72 L881.60,768.13 L880.70,768.54 L879.80,768.96 L878.90,769.38 L878.00,769.80 L877.10,770.22 L876.21,770.64 L875.31,771.07 L874.41,771.49 L873.52,771.92 L872.62,772.36 L871.73,772.79 L870.84,773.23 L869.94,773.66 L869.05,774.10 L868.16,774.55 L867.27,774.99 L866.38,775.43 L865.49,775.88 L864.60,776.33 L863.71,776.78 L862.82,777.23 L861.93,777.68 L861.04,778.14 L860.15,778.60 L859.26,779.05 L858.38,779.51 L857.49,779.97 L856.60,780.43 L855.72,780.90 L854.83,781.36 L853.94,781.83 L853.06,782.29 L852.17,782.76 L851.29,783.23 L850.40,783.70 L849.52,784.17 L848.63,784.64 L847.75,785.12 L846.86,785.59 L845.98,786.06 L845.10,786.54 L844.21,787.02 L843.33,787.49 L842.45,787.97 L841.56,788.45 L840.68,788.93 L839.80,789.41 L838.91,789.89 L838.03,790.37 L837.15,790.85 L836.27,791.33 L835.38,791.81 L834.50,792.29 L833.62,792.78 L832.73,793.26 L831.85,793.74 L830.97,794.22 L830.09,794.71 L829.20,795.19 L828.32,795.67 L827.44,796.16 L826.55,796.64 L825.67,797.12 L824.79,797.61 L823.90,798.09 L823.02,798.57 L822.14,799.05 L821.25,799.54 L820.37,800.02 L819.48,800.50 L818.60,800.98 L817.71,801.46 L816.83,801.94 L815.94,802.42 L815.06,802.90 L814.17,803.38 L813.28,803.86 L812.40,804.34 L811.51,804.82 L810.62,805.29 L809.74,805.77 L808.85,806.24 L807.96,806.72 L807.07,807.19 L806.18,807.66 L805.29,808.13 L804.40,808.60 L803.51,809.07 L802.62,809.54 L801.73,810.01 L800.84,810.47 L799.95,810.94 L799.05,811.40 L798.16,811.86 L797.27,812.32 L796.37,812.78 L795.48,813.24 L794.58,813.70 L793.69,814.15 L792.79,814.61 L791.89,815.06 L791.00,815.51 L790.10,815.96 L789.20,816.41 L788.30,816.85 L787.40,817.29 L786.50,817.74 L785.60,818.18 L784.70,818.62 L783.79,819.05 L782.89,819.49 L781.99,819.92 L781.08,820.35 L780.18,820.78 L779.27,821.20 L778.36,821.63 L777.45,822.05 L776.55,822.47 L775.64,822.89 L774.73,823.30 L773.81,823.72 L772.90,824.13 L771.99,824.54 L771.08,824.94 L770.16,825.35 L769.24,825.75 L768.33,826.14 L767.41,826.54 L766.49,826.93 L765.57,827.32 L764.65,827.71 L763.73,828.10 L762.81,828.48 L761.89,828.86 L760.96,829.23 L760.04,829.61 L759.11,829.98 L758.18,830.34 L757.25,830.71 L756.32,831.07 L755.39,831.43 L754.46,831.78 L753.53,832.14 L752.59,832.48 L751.66,832.83 L750.72,833.17 L749.79,833.51 L748.85,833.85 L747.91,834.18 L746.97,834.51 L746.02,834.83 L745.08,835.15 L744.14,835.47 L743.19,835.79 L742.24,836.10 L741.29,836.40 L740.35,836.71 L739.39,837.01 L738.44,837.30 L737.49,837.59 L736.53,837.88 L735.58,838.17 L734.62,838.45 L733.66,838.72 L732.70,838.99 L731.74,839.26 L730.77,839.52 L729.81,839.78 L728.84,840.04 L727.88,840.29 L726.91,840.54 L725.94,840.78 L724.96,841.02 L723.99,841.25 L723.02,841.48 L722.04,841.71 L721.06,841.93 L720.08,842.14 L719.10,842.35 L718.12,842.56 L717.13,842.76 L716.15,842.96 L715.16,843.15 L714.17,843.34 L713.18,843.52 L712.19,843.70 L711.19,843.87 L710.20,844.04 L709.20,844.20Z" fill="#b11e00"/>

<path d="M818.00,664.00 L819.57,662.76 L821.16,661.53 L822.75,660.32 L824.35,659.11 L825.96,657.92 L827.57,656.74 L829.20,655.58 L830.83,654.42 L832.46,653.27 L834.11,652.13 L835.75,651.00 L837.41,649.88 L839.07,648.77 L840.73,647.67 L842.40,646.57 L844.08,645.48 L845.76,644.39 L847.44,643.32 L849.13,642.24 L850.81,641.18 L852.51,640.11 L854.20,639.05 L855.90,638.00 L857.60,636.94 L859.30,635.89 L861.00,634.85 L862.70,633.80 L864.40,632.76 L866.11,631.71 L867.81,630.67 L869.51,629.63 L871.21,628.58 L872.92,627.54 L874.62,626.49 L876.31,625.44 L878.01,624.39 L879.70,623.34 L881.40,622.28 L883.08,621.22 L884.77,620.15 L886.45,619.08 L888.13,618.01 L889.80,616.93 L891.47,615.84 L893.14,614.75 L894.80,613.65 L896.45,612.54 L898.10,611.42 L899.74,610.30 L901.38,609.17 L903.01,608.03 L904.63,606.87 L906.25,605.71 L907.85,604.54 L909.45,603.36 L911.04,602.16 L912.63,600.95 L914.20,599.73 L915.76,598.50 L917.32,597.25 L918.86,595.99 L920.40,594.72 L921.92,593.43 L923.44,592.12 L924.94,590.80 L926.43,589.47 L927.91,588.11 L929.37,586.74 L930.83,585.36 L932.27,583.95 L933.70,582.53 L935.11,581.09 L936.51,579.63 L937.90,578.15 L939.26,576.66 L940.62,575.15 L941.95,573.63 L943.27,572.09 L944.58,570.53 L945.86,568.96 L947.13,567.38 L948.37,565.78 L949.60,564.17 L950.80,562.54 L951.99,560.90 L953.15,559.24 L954.29,557.57 L955.41,555.89 L956.51,554.20 L957.58,552.49 L958.63,550.77 L959.65,549.04 L960.65,547.30 L961.62,545.54 L962.57,543.78 L963.49,542.00 L964.38,540.22 L965.24,538.42 L966.08,536.62 L966.88,534.80 L967.66,532.98 L968.41,531.14 L969.12,529.30 L969.81,527.45 L970.46,525.59 L971.08,523.73 L971.67,521.85 L972.22,519.97 L972.75,518.08 L973.23,516.19 L973.69,514.28 L974.12,512.37 L974.51,510.46 L974.88,508.54 L975.22,506.61 L975.54,504.68 L975.84,502.74 L976.12,500.80 L976.37,498.85 L976.61,496.89 L976.83,494.93 L977.03,492.97 L977.22,491.00 L977.40,489.03 L977.57,487.06 L977.73,485.08 L977.88,483.10 L978.02,481.11 L978.16,479.12 L978.29,477.13 L978.42,475.13 L978.54,473.13 L978.66,471.13 L978.77,469.13 L978.88,467.13 L978.98,465.12 L979.08,463.11 L979.16,461.10 L979.24,459.08 L979.32,457.07 L979.39,455.05 L979.45,453.03 L979.50,451.01 L979.55,448.99 L979.59,446.97 L979.62,444.95 L979.64,442.93 L979.66,440.90 L979.66,438.88 L979.66,436.85 L979.65,434.83 L979.63,432.81 L979.61,430.78 L979.57,428.76 L979.52,426.73 L979.46,424.71 L979.40,422.69 L979.32,420.66 L979.24,418.64 L979.14,416.62 L979.03,414.61 L978.92,412.59 L978.79,410.57 L978.65,408.56 L978.50,406.54 L978.34,404.53 L978.16,402.53 L977.98,400.52 L977.78,398.51 L977.57,396.51 L977.35,394.51 L977.12,392.52 L976.87,390.52 L976.61,388.53 L976.34,386.54 L976.05,384.56 L975.75,382.58 L975.44,380.60 L975.12,378.63 L974.78,376.66 L974.42,374.69 L974.05,372.73 L973.67,370.77 L973.27,368.82 L972.86,366.87 L972.43,364.92 L971.99,362.98 L971.53,361.05 L971.06,359.12 L970.57,357.19 L970.07,355.27 L969.55,353.36 L969.01,351.45 L968.46,349.55 L967.89,347.65 L967.30,345.76 L966.70,343.87 L966.07,341.99 L965.44,340.12 L964.78,338.26 L964.11,336.40 L963.42,334.54 L962.71,332.70 L961.98,330.86 L961.23,329.03 L960.47,327.20 L959.68,325.39 L958.88,323.58 L958.06,321.78 L957.22,319.98 L956.36,318.20 L955.48,316.42 L954.58,314.65 L953.67,312.89 L952.73,311.14 L951.78,309.40 L950.81,307.67 L949.82,305.95 L948.81,304.24 L947.78,302.54 L946.74,300.84 L945.68,299.16 L944.60,297.49 L943.50,295.83 L942.39,294.19 L941.25,292.55 L940.10,290.93 L938.94,289.31 L937.75,287.71 L936.55,286.13 L935.33,284.55 L934.10,282.99 L932.84,281.44 L931.58,279.90 L930.29,278.38 L928.99,276.87 L927.67,275.38 L926.33,273.90 L924.98,272.43 L923.62,270.98 L922.23,269.55 L920.84,268.12 L919.42,266.72 L917.99,265.33 L916.55,263.95 L915.08,262.59 L913.61,261.25 L912.12,259.92 L910.61,258.62 L909.09,257.32 L907.55,256.05 L906.00,254.79 L904.43,253.55 L902.85,252.33 L901.25,251.12 L899.64,249.93 L898.02,248.77 L896.38,247.62 L894.73,246.49 L893.06,245.37 L891.38,244.28 L889.68,243.21 L887.97,242.15 L886.25,241.12 L884.52,240.11 L882.78,239.11 L881.02,238.14 L879.25,237.18 L877.47,236.25 L875.68,235.33 L873.88,234.44 L872.06,233.56 L870.24,232.71 L868.41,231.87 L866.56,231.06 L864.71,230.27 L862.85,229.50 L860.98,228.75 L859.10,228.02 L857.22,227.31 L855.32,226.63 L853.42,225.96 L851.51,225.32 L849.60,224.69 L847.68,224.09 L845.75,223.52 L843.81,222.96 L841.87,222.42 L839.93,221.91 L837.98,221.42 L836.02,220.95 L834.06,220.51 L832.09,220.09 L830.12,219.69 L828.15,219.31 L826.18,218.95 L824.20,218.62 L822.21,218.31 L820.23,218.03 L818.24,217.77 L816.25,217.53 L814.26,217.31 L812.27,217.12 L810.28,216.96 L808.28,216.81 L806.29,216.69 L804.30,216.60 L802.30,216.52 L800.31,216.48 L798.31,216.45 L796.32,216.45 L794.33,216.48 L792.34,216.53 L790.35,216.60 L788.37,216.70 L786.38,216.82 L784.40,216.96 L782.42,217.13 L780.44,217.33 L778.47,217.54 L776.50,217.78 L774.53,218.05 L772.56,218.33 L770.60,218.65 L768.64,218.98 L766.69,219.34 L764.74,219.72 L762.80,220.12 L760.86,220.55 L758.92,221.00 L756.99,221.48 L755.07,221.98 L753.15,222.50 L751.24,223.04 L749.33,223.61 L747.43,224.20 L745.54,224.81 L743.65,225.45 L741.77,226.11 L739.90,226.79 L738.03,227.50 L736.17,228.22 L734.32,228.97 L732.48,229.75 L730.65,230.54 L728.82,231.36 L727.00,232.20 L725.19,233.06 L723.39,233.95 L721.60,234.85 L719.82,235.78 L718.06,236.74 L716.30,237.72 L714.56,238.72 L712.83,239.74 L711.11,240.79 L709.42,241.86 L707.73,242.96 L706.07,244.09 L704.42,245.24 L702.79,246.41 L701.18,247.62 L699.60,248.85 L698.03,250.10 L696.49,251.38 L694.96,252.69 L693.46,254.02 L691.99,255.38 L690.54,256.76 L689.11,258.17 L687.71,259.60 L686.34,261.05 L684.99,262.53 L683.67,264.02 L682.38,265.55 L681.11,267.09 L679.88,268.65 L678.67,270.24 L677.50,271.85 L676.35,273.47 L675.24,275.12 L674.16,276.79 L673.11,278.47 L672.10,280.18 L671.12,281.90 L670.17,283.65 L669.26,285.40 L668.39,287.18 L667.55,288.98 L666.75,290.79 L665.98,292.61 L665.26,294.46 L664.57,296.32 L663.92,298.19 L663.31,300.08 L662.74,301.98 L662.22,303.90 L661.73,305.83 L661.29,307.77 L660.89,309.73 L660.53,311.70 L660.22,313.68 L659.95,315.67 L659.73,317.67 L659.55,319.68 L659.41,321.70 L659.32,323.73 L659.27,325.76 L659.26,327.79 L659.30,329.83 L659.38,331.86 L659.50,333.90 L659.66,335.93 L659.86,337.97 L660.11,340.00 L660.40,342.02 L660.72,344.03 L661.09,346.04 L661.50,348.04 L661.95,350.03 L662.45,352.01 L662.98,353.97 L663.55,355.93 L664.16,357.86 L664.81,359.78 L665.50,361.68 L666.22,363.56 L666.99,365.42 L667.80,367.26 L668.64,369.08 L669.52,370.87 L670.44,372.63 L671.40,374.37 L672.39,376.09 L673.43,377.77 L674.50,379.42 L675.60,381.04 L676.74,382.62 L677.92,384.17 L679.14,385.69 L680.39,387.17 L681.68,388.61 L683.00,390.01 L684.35,391.38 L685.74,392.72 L687.16,394.02 L688.61,395.28 L690.09,396.52 L691.60,397.72 L693.14,398.90 L694.71,400.04 L696.30,401.16 L697.92,402.26 L699.56,403.33 L701.22,404.37 L702.91,405.39 L704.62,406.39 L706.35,407.37 L708.10,408.33 L709.87,409.27 L711.66,410.19 L713.47,411.09 L715.29,411.98 L717.12,412.86 L718.97,413.72 L720.84,414.57 L722.71,415.41 L724.60,416.23 L726.50,417.05 L728.41,417.86 L730.32,418.67 L732.25,419.46 L734.18,420.26 L736.11,421.04 L738.06,421.83 L740.00,422.61 L741.95,423.40 L743.91,424.17 L745.86,424.94 L747.82,425.69 L749.78,426.42 L751.74,427.14 L753.71,427.83 L755.68,428.49 L757.64,429.12 L759.61,429.71 L761.58,430.27 L763.56,430.78 L765.53,431.25 L767.50,431.66 L769.47,432.03 L771.44,432.33 L773.41,432.58 L775.39,432.76 L777.36,432.88 L779.32,432.92 L781.29,432.89 L783.26,432.78 L785.22,432.60 L787.17,432.35 L789.11,432.03 L791.05,431.64 L792.97,431.18 L794.88,430.65 L796.78,430.06 L798.65,429.41 L800.51,428.70 L802.35,427.92 L804.16,427.09 L805.95,426.20 L807.72,425.25 L809.46,424.25 L811.16,423.19 L812.84,422.08 L814.48,420.92 L816.09,419.72 L817.66,418.46 L819.19,417.16 L820.68,415.82 L822.13,414.43 L823.54,413.00 L824.90,411.53 L826.21,410.02 L827.47,408.48 L828.68,406.90 L829.84,405.28 L830.95,403.63 L831.99,401.95 L832.98,400.24 L833.91,398.50 L834.78,396.73 L835.58,394.94 L836.32,393.12 L836.99,391.28 L837.60,389.42 L838.13,387.53 L838.59,385.63 L838.97,383.71 L839.28,381.78 L839.51,379.83 L839.66,377.87 L839.73,375.90 L839.72,373.92 L839.62,371.92 L839.44,369.93 L839.18,367.93 L838.83,365.93 L838.41,363.93 L837.91,361.94 L837.33,359.96 L836.68,358.00 L835.96,356.05 L835.17,354.12 L834.31,352.21 L833.39,350.33 L832.40,348.48 L831.35,346.66 L830.24,344.87 L829.07,343.12 L827.84,341.42 L826.56,339.75 L825.22,338.14 L823.83,336.58 L822.39,335.07 L820.91,333.62 L819.37,332.23 L817.80,330.90 L816.18,329.64 L814.52,328.45 L812.82,327.33 L811.08,326.29 L809.31,325.32 L807.51,324.44 L805.68,323.65 L803.82,322.94 L801.95,322.33 L800.06,321.80 L798.16,321.38 L796.26,321.05 L794.34,320.83 L792.43,320.71 L790.52,320.71 L788.61,320.81 L786.72,321.03 L784.84,321.37 L782.97,321.82 L781.13,322.40 L779.30,323.09 L777.49,323.88 L775.68,324.74 L773.88,325.67 L772.08,326.66 L770.27,327.68 L768.46,328.72 L766.63,329.78 L764.78,330.82 L762.92,331.85 L761.03,332.84 L759.12,333.79 L757.19,334.69 L755.26,335.52 L753.32,336.27 L751.37,336.94 L749.44,337.51 L747.51,337.97 L745.59,338.32 L743.69,338.54 L741.81,338.61 L739.96,338.54 L738.14,338.31 L736.36,337.91 L734.61,337.32 L732.92,336.55 L731.27,335.58 L729.69,334.44 L728.20,333.14 L726.81,331.72 L725.54,330.19 L724.41,328.58 L723.42,326.91 L722.59,325.18 L721.89,323.40 L721.34,321.57 L720.92,319.71 L720.63,317.81 L720.46,315.88 L720.42,313.93 L720.49,311.96 L720.67,309.98 L720.96,308.00 L721.36,306.01 L721.85,304.02 L722.43,302.05 L723.10,300.09 L723.86,298.14 L724.70,296.23 L725.61,294.34 L726.59,292.50 L727.64,290.69 L728.76,288.93 L729.92,287.22 L731.15,285.58 L732.42,283.99 L733.74,282.46 L735.10,280.99 L736.51,279.58 L737.96,278.22 L739.46,276.92 L740.99,275.67 L742.56,274.48 L744.17,273.33 L745.82,272.24 L747.49,271.20 L749.20,270.21 L750.94,269.26 L752.70,268.36 L754.49,267.51 L756.31,266.70 L758.15,265.93 L760.01,265.20 L761.89,264.52 L763.79,263.87 L765.71,263.27 L767.64,262.70 L769.59,262.16 L771.54,261.67 L773.51,261.20 L775.49,260.77 L777.47,260.38 L779.46,260.01 L781.46,259.68 L783.46,259.39 L785.47,259.12 L787.48,258.89 L789.50,258.69 L791.52,258.53 L793.54,258.39 L795.57,258.29 L797.59,258.23 L799.62,258.19 L801.64,258.19 L803.67,258.22 L805.70,258.29 L807.72,258.38 L809.74,258.51 L811.76,258.68 L813.77,258.87 L815.78,259.10 L817.78,259.36 L819.78,259.65 L821.77,259.97 L823.75,260.33 L825.73,260.72 L827.70,261.14 L829.66,261.60 L831.61,262.08 L833.54,262.60 L835.47,263.15 L837.39,263.74 L839.29,264.35 L841.18,265.00 L843.06,265.68 L844.92,266.39 L846.77,267.13 L848.60,267.91 L850.41,268.72 L852.21,269.56 L853.99,270.43 L855.76,271.33 L857.50,272.27 L859.22,273.24 L860.93,274.24 L862.61,275.27 L864.28,276.33 L865.92,277.42 L867.54,278.54 L869.14,279.69 L870.73,280.87 L872.29,282.07 L873.83,283.31 L875.34,284.57 L876.84,285.86 L878.32,287.17 L879.77,288.51 L881.20,289.88 L882.61,291.27 L884.00,292.68 L885.37,294.12 L886.71,295.58 L888.03,297.06 L889.33,298.57 L890.61,300.09 L891.86,301.64 L893.09,303.21 L894.30,304.80 L895.49,306.41 L896.65,308.03 L897.79,309.68 L898.90,311.34 L900.00,313.02 L901.06,314.72 L902.11,316.44 L903.13,318.17 L904.12,319.91 L905.10,321.68 L906.04,323.45 L906.97,325.24 L907.86,327.04 L908.74,328.86 L909.59,330.69 L910.41,332.53 L911.21,334.38 L911.98,336.25 L912.73,338.12 L913.45,340.00 L914.15,341.90 L914.82,343.80 L915.47,345.71 L916.09,347.63 L916.68,349.55 L917.25,351.48 L917.79,353.42 L918.30,355.37 L918.79,357.32 L919.25,359.27 L919.69,361.23 L920.10,363.20 L920.48,365.17 L920.83,367.14 L921.16,369.11 L921.47,371.09 L921.75,373.07 L922.00,375.06 L922.23,377.05 L922.44,379.04 L922.62,381.03 L922.78,383.03 L922.92,385.02 L923.03,387.02 L923.12,389.02 L923.19,391.03 L923.23,393.03 L923.26,395.03 L923.26,397.04 L923.24,399.04 L923.20,401.05 L923.14,403.06 L923.05,405.06 L922.95,407.07 L922.83,409.07 L922.69,411.08 L922.53,413.08 L922.35,415.08 L922.15,417.09 L921.93,419.09 L921.70,421.08 L921.44,423.08 L921.17,425.07 L920.89,427.07 L920.58,429.06 L920.26,431.04 L919.92,433.03 L919.57,435.01 L919.20,436.98 L918.81,438.95 L918.39,440.92 L917.96,442.87 L917.50,444.82 L917.00,446.75 L916.48,448.67 L915.92,450.57 L915.33,452.46 L914.70,454.33 L914.02,456.18 L913.31,458.01 L912.54,459.81 L911.73,461.59 L910.87,463.34 L909.95,465.06 L908.98,466.76 L907.95,468.42 L906.88,470.06 L905.75,471.66 L904.58,473.24 L903.36,474.78 L902.10,476.30 L900.79,477.79 L899.44,479.24 L898.05,480.67 L896.62,482.07 L895.15,483.44 L893.64,484.77 L892.11,486.08 L890.54,487.36 L888.93,488.60 L887.30,489.82 L885.64,491.00 L883.96,492.16 L882.24,493.28 L880.51,494.38 L878.75,495.44 L876.97,496.47 L875.17,497.47 L873.36,498.44 L871.53,499.38 L869.68,500.29 L867.82,501.16 L865.95,502.01 L864.07,502.82 L862.18,503.61 L860.29,504.36 L858.39,505.08 L856.48,505.76 L854.57,506.42 L852.65,507.05 L850.73,507.65 L848.81,508.22 L846.88,508.76 L844.95,509.27 L843.01,509.76 L841.07,510.22 L839.13,510.66 L837.18,511.07 L835.23,511.45 L833.28,511.81 L831.32,512.15 L829.36,512.47 L827.40,512.76 L825.44,513.03 L823.47,513.28 L821.50,513.51 L819.53,513.72 L817.56,513.91 L815.59,514.09 L813.61,514.24 L811.63,514.38 L809.66,514.50 L807.68,514.61 L805.70,514.70 L803.72,514.77 L801.74,514.83 L799.75,514.88 L797.77,514.91 L795.79,514.93 L793.81,514.94 L791.83,514.94 L789.85,514.92 L787.87,514.90 L785.89,514.87 L783.91,514.82 L781.93,514.77 L779.95,514.70 L777.97,514.63 L775.99,514.54 L774.01,514.44 L772.03,514.33 L770.05,514.21 L768.07,514.08 L766.09,513.94 L764.11,513.78 L762.13,513.62 L760.15,513.44 L758.17,513.24 L756.19,513.04 L754.20,512.82 L752.22,512.59 L750.23,512.35 L748.25,512.10 L746.26,511.83 L744.27,511.55 L742.28,511.25 L740.30,510.94 L738.31,510.62 L736.32,510.29 L734.34,509.94 L732.35,509.58 L730.37,509.20 L728.38,508.81 L726.40,508.41 L724.42,507.99 L722.45,507.56 L720.47,507.12 L718.50,506.66 L716.53,506.18 L714.57,505.70 L712.61,505.20 L710.65,504.68 L708.70,504.15 L706.75,503.60 L704.80,503.04 L702.86,502.47 L700.92,501.88 L698.99,501.28 L697.07,500.66 L695.15,500.03 L693.24,499.38 L691.33,498.71 L689.43,498.04 L687.53,497.34 L685.65,496.63 L683.77,495.91 L681.89,495.17 L680.03,494.41 L678.17,493.64 L676.32,492.86 L674.48,492.05 L672.65,491.23 L670.82,490.40 L669.01,489.55 L667.21,488.68 L665.41,487.80 L663.62,486.90 L661.85,485.99 L660.08,485.06 L658.33,484.11 L656.58,483.15 L654.85,482.17 L653.13,481.17 L651.42,480.16 L649.72,479.13 L648.04,478.08 L646.36,477.01 L644.70,475.93 L643.05,474.84 L641.42,473.72 L639.79,472.59 L638.19,471.44 L636.59,470.27 L635.01,469.09 L633.44,467.89 L631.89,466.67 L630.35,465.43 L628.83,464.18 L627.32,462.90 L625.83,461.61 L624.35,460.31 L622.89,458.98 L621.45,457.64 L620.02,456.27 L618.61,454.89 L617.22,453.49 L615.84,452.08 L614.48,450.64 L613.14,449.19 L611.81,447.72 L610.51,446.23 L609.22,444.72 L607.95,443.19 L606.70,441.65 L605.46,440.09 L604.25,438.52 L603.05,436.93 L601.87,435.32 L600.72,433.70 L599.57,432.06 L598.45,430.41 L597.35,428.74 L596.27,427.06 L595.20,425.36 L594.16,423.66 L593.13,421.93 L592.12,420.20 L591.14,418.45 L590.17,416.69 L589.22,414.92 L588.29,413.13 L587.39,411.34 L586.50,409.53 L585.63,407.72 L584.78,405.89 L583.96,404.05 L583.15,402.20 L582.36,400.34 L581.60,398.48 L580.85,396.60 L580.13,394.72 L579.42,392.82 L578.74,390.92 L578.08,389.02 L577.44,387.10 L576.82,385.18 L576.22,383.25 L575.65,381.31 L575.09,379.37 L574.56,377.42 L574.05,375.47 L573.56,373.51 L573.10,371.55 L572.65,369.58 L572.23,367.60 L571.83,365.63 L571.45,363.65 L571.09,361.66 L570.76,359.68 L570.45,357.69 L570.16,355.70 L569.90,353.70 L569.65,351.71 L569.44,349.71 L569.24,347.71 L569.07,345.71 L568.92,343.71 L568.79,341.71 L568.69,339.71 L568.61,337.71 L568.55,335.71 L568.52,333.72 L568.52,331.72 L568.53,329.72 L568.57,327.73 L568.64,325.74 L568.72,323.75 L568.84,321.76 L568.97,319.78 L569.13,317.80 L569.30,315.82 L569.51,313.84 L569.73,311.86 L569.97,309.89 L570.24,307.92 L570.53,305.96 L570.84,303.99 L571.17,302.03 L571.52,300.07 L571.89,298.12 L572.28,296.17 L572.70,294.22 L573.13,292.28 L573.58,290.34 L574.05,288.41 L574.54,286.47 L575.04,284.55 L575.57,282.62 L576.12,280.70 L576.68,278.79 L577.26,276.88 L577.86,274.97 L578.48,273.07 L579.11,271.18 L579.76,269.28 L580.43,267.40 L581.11,265.52 L581.81,263.64 L582.53,261.77 L583.26,259.90 L584.01,258.04 L584.77,256.19 L585.55,254.34 L586.34,252.50 L587.15,250.66 L587.97,248.83 L588.81,247.00 L589.66,245.19 L590.52,243.37 L591.40,241.57 L592.29,239.77 L593.20,237.98 L594.12,236.19 L595.05,234.41 L596.00,232.64 L596.96,230.88 L597.94,229.13 L598.93,227.38 L599.93,225.65 L600.95,223.92 L601.98,222.20 L603.03,220.49 L604.09,218.78 L605.16,217.09 L606.25,215.41 L607.35,213.74 L608.46,212.07 L609.59,210.42 L610.73,208.78 L611.89,207.15 L613.06,205.53 L614.24,203.92 L615.44,202.32 L616.65,200.73 L617.88,199.15 L619.12,197.59 L620.37,196.04 L621.63,194.50 L622.91,192.97 L624.21,191.46 L625.51,189.96 L626.83,188.47 L628.17,186.99 L629.51,185.53 L630.87,184.08 L632.25,182.65 L633.64,181.23 L635.04,179.82 L636.45,178.43 L637.88,177.05 L639.33,175.69 L640.78,174.34 L642.25,173.01 L643.73,171.69 L645.23,170.39 L646.74,169.10 L648.26,167.84 L649.80,166.58 L651.35,165.35 L652.91,164.12 L654.49,162.92 L656.08,161.73 L657.68,160.56 L659.29,159.41 L660.92,158.27 L662.56,157.15 L664.21,156.05 L665.88,154.96 L667.55,153.89 L669.24,152.83 L670.94,151.79 L672.65,150.77 L674.36,149.76 L676.09,148.77 L677.83,147.80 L679.59,146.84 L681.35,145.90 L683.12,144.97 L684.89,144.06 L686.68,143.17 L688.48,142.29 L690.29,141.43 L692.10,140.58 L693.93,139.75 L695.76,138.93 L697.60,138.13 L699.45,137.34 L701.30,136.57 L703.16,135.82 L705.03,135.08 L706.91,134.36 L708.79,133.65 L710.68,132.96 L712.58,132.28 L714.48,131.62 L716.39,130.97 L718.30,130.34 L720.22,129.72 L722.14,129.12 L724.07,128.53 L726.01,127.96 L727.95,127.40 L729.89,126.86 L731.84,126.33 L733.79,125.82 L735.74,125.32 L737.70,124.84 L739.66,124.37 L741.63,123.92 L743.60,123.48 L745.57,123.05 L747.54,122.64 L749.52,122.24 L751.49,121.86 L753.47,121.49 L755.45,121.14 L757.43,120.80 L759.42,120.47 L761.40,120.16 L763.39,119.87 L765.37,119.58 L767.36,119.31 L769.35,119.06 L771.34,118.82 L773.33,118.59 L775.32,118.38 L777.31,118.18 L779.30,117.99 L781.29,117.82 L783.28,117.66 L785.27,117.51 L787.26,117.38 L789.25,117.26 L791.24,117.16 L793.24,117.07 L795.23,116.99 L797.22,116.92 L799.21,116.87 L801.20,116.84 L803.19,116.81 L805.18,116.80 L807.18,116.80 L809.17,116.82 L811.16,116.84 L813.15,116.88 L815.13,116.94 L817.12,117.01 L819.11,117.09 L821.10,117.18 L823.08,117.28 L825.07,117.40 L827.05,117.53 L829.04,117.68 L831.02,117.83 L833.00,118.00 L834.98,118.18 L836.96,118.37 L838.94,118.58 L840.91,118.80 L842.89,119.03 L844.86,119.27 L846.83,119.53 L848.80,119.80 L850.77,120.08 L852.74,120.37 L854.71,120.67 L856.67,120.99 L858.63,121.32 L860.59,121.66 L862.55,122.01 L864.51,122.38 L866.46,122.75 L868.42,123.14 L870.37,123.54 L872.32,123.95 L874.26,124.37 L876.21,124.81 L878.15,125.26 L880.09,125.71 L882.02,126.18 L883.96,126.67 L885.89,127.16 L887.82,127.66 L889.75,128.18 L891.67,128.70 L893.59,129.24 L895.51,129.79 L897.42,130.35 L899.34,130.92 L901.25,131.51 L903.15,132.10 L905.06,132.70 L906.96,133.32 L908.85,133.95 L910.75,134.58 L912.64,135.23 L914.52,135.89 L916.41,136.56 L918.29,137.24 L920.16,137.93 L922.04,138.64 L923.91,139.35 L925.77,140.07 L927.63,140.81 L929.49,141.55 L931.34,142.31 L933.19,143.07 L935.04,143.85 L936.88,144.63 L938.72,145.43 L940.55,146.23 L942.38,147.05 L944.21,147.88 L946.03,148.71 L947.85,149.56 L949.66,150.42 L951.47,151.28 L953.27,152.16 L955.07,153.05 L956.86,153.94 L958.65,154.85 L960.43,155.77 L962.21,156.69 L963.99,157.63 L965.76,158.57 L967.52,159.53 L969.28,160.49 L971.04,161.46 L972.79,162.45 L974.53,163.44 L976.27,164.44 L978.00,165.45 L979.73,166.47 L981.45,167.50 L983.17,168.54 L984.88,169.59 L986.59,170.65 L988.29,171.71 L989.99,172.79 L991.67,173.87 L993.36,174.97 L995.04,176.07 L996.71,177.18 L998.37,178.30 L1000.03,179.43 L1001.69,180.57 L1003.33,181.71 L1004.97,182.87 L1006.61,184.03 L1008.24,185.20 L1009.86,186.38 L1011.47,187.57 L1013.08,188.77 L1014.69,189.97 L1016.28,191.19 L1017.87,192.41 L1019.45,193.64 L1021.03,194.88 L1022.60,196.13 L1024.16,197.38 L1025.72,198.65 L1027.26,199.92 L1028.81,201.20 L1030.34,202.49 L1031.87,203.78 L1033.39,205.09 L1034.90,206.40 L1036.40,207.72 L1037.90,209.04 L1039.39,210.38 L1040.88,211.72 L1042.35,213.07 L1043.82,214.43 L1045.28,215.79 L1046.73,217.16 L1048.18,218.54 L1049.62,219.93 L1051.05,221.33 L1052.47,222.73 L1053.89,224.14 L1055.30,225.55 L1056.70,226.98 L1058.09,228.41 L1059.48,229.84 L1060.86,231.29 L1062.23,232.74 L1063.59,234.19 L1064.95,235.66 L1066.30,237.13 L1067.64,238.61 L1068.98,240.09 L1070.30,241.58 L1071.62,243.08 L1072.94,244.58 L1074.24,246.09 L1075.54,247.61 L1076.84,249.13 L1078.12,250.66 L1079.40,252.19 L1080.67,253.73 L1081.93,255.27 L1083.19,256.83 L1084.44,258.38 L1085.68,259.95 L1086.91,261.52 L1088.14,263.09 L1089.36,264.67 L1090.58,266.26 L1091.78,267.85 L1092.98,269.44 L1094.18,271.05 L1095.36,272.65 L1096.54,274.27 L1097.71,275.88 L1098.88,277.51 L1100.03,279.13 L1101.18,280.77 L1102.33,282.40 L1103.47,284.05 L1104.60,285.69 L1105.72,287.34 L1106.84,289.00 L1107.94,290.66 L1109.05,292.33 L1110.14,294.00 L1111.23,295.67 L1112.31,297.35 L1113.39,299.04 L1114.46,300.72 L1115.52,302.42 L1116.58,304.11 L1117.62,305.81 L1118.67,307.52 L1119.70,309.23 L1120.73,310.94 L1121.75,312.66 L1122.76,314.38 L1123.77,316.10 L1124.77,317.83 L1125.77,319.56 L1126.76,321.29 L1127.74,323.03 L1128.71,324.77 L1129.68,326.52 L1130.64,328.27 L1131.60,330.02 L1132.55,331.77 L1133.49,333.53 L1134.43,335.29 L1135.36,337.06 L1136.28,338.82 L1137.20,340.59 L1138.11,342.37 L1139.01,344.14 L1139.91,345.92 L1140.80,347.71 L1141.68,349.49 L1142.56,351.28 L1143.44,353.07 L1144.30,354.86 L1145.16,356.66 L1146.02,358.46 L1146.87,360.26 L1147.71,362.07 L1148.55,363.88 L1149.38,365.69 L1150.21,367.50 L1151.03,369.32 L1151.84,371.14 L1152.65,372.96 L1153.45,374.78 L1154.25,376.61 L1155.04,378.44 L1155.83,380.27 L1156.61,382.10 L1157.39,383.94 L1158.16,385.77 L1158.92,387.62 L1159.68,389.46 L1160.44,391.30 L1161.19,393.15 L1161.93,395.00 L1162.67,396.85 L1163.40,398.71 L1164.13,400.56 L1164.86,402.42 L1165.58,404.28 L1166.29,406.15 L1167.00,408.01 L1167.70,409.88 L1168.40,411.75 L1169.10,413.62 L1169.79,415.49 L1170.47,417.37 L1171.15,419.24 L1171.83,421.12 L1172.50,423.00 L1173.17,424.88 L1173.83,426.77 L1174.49,428.65 L1175.14,430.54 L1175.79,432.43 L1176.44,434.32 L1177.08,436.21 L1177.71,438.11 L1178.35,440.00 L1178.97,441.90 L1179.60,443.80 L1180.22,445.70 L1180.83,447.60 L1181.44,449.50 L1182.05,451.41 L1182.66,453.31 L1183.25,455.22 L1183.85,457.13 L1184.44,459.04 L1185.03,460.95 L1185.62,462.86 L1186.20,464.78 L1186.77,466.69 L1187.35,468.61 L1187.92,470.53 L1188.48,472.45 L1189.05,474.36 L1189.61,476.29 L1190.16,478.21 L1190.72,480.13 L1191.27,482.05 L1191.81,483.98 L1192.35,485.90 L1192.89,487.83 L1193.43,489.76 L1193.96,491.69 L1194.49,493.61 L1195.02,495.54 L1195.54,497.47 L1196.07,499.41 L1196.58,501.34 L1197.10,503.27 L1197.61,505.20 L1198.12,507.14 L1198.63,509.07 L1199.13,511.01 L1199.63,512.94 L1200.13,514.88 L1200.62,516.82 L1201.12,518.76 L1201.60,520.69 L1202.09,522.63 L1202.57,524.57 L1203.05,526.51 L1203.53,528.46 L1204.00,530.40 L1204.48,532.34 L1204.94,534.28 L1205.41,536.23 L1205.87,538.17 L1206.33,540.12 L1206.79,542.06 L1207.24,544.01 L1207.69,545.96 L1208.14,547.90 L1208.58,549.85 L1209.02,551.80 L1209.46,553.75 L1209.90,555.70 L1210.33,557.65 L1210.76,559.60 L1211.18,561.55 L1211.61,563.51 L1212.03,565.46 L1212.44,567.41 L1212.86,569.37 L1213.27,571.32 L1213.68,573.28 L1214.08,575.23 L1214.49,577.19 L1214.88,579.15 L1215.28,581.10 L1215.67,583.06 L1216.06,585.02 L1216.45,586.98 L1216.84,588.94 L1217.22,590.90 L1217.59,592.86 L1217.97,594.82 L1218.34,596.78 L1218.71,598.75 L1219.08,600.71 L1219.44,602.67 L1219.80,604.64 L1220.16,606.60 L1220.51,608.56 L1220.86,610.53 L1221.21,612.50 L1221.55,614.46 L1221.89,616.43 L1222.23,618.40 L1222.57,620.36 L1222.90,622.33 L1223.23,624.30 L1223.55,626.27 L1223.88,628.24 L1224.20,630.21 L1224.51,632.18 L1224.83,634.15 L1225.14,636.12 L1225.45,638.09 L1225.75,640.07 L1226.05,642.04 L1226.35,644.01 L1226.64,645.99 L1226.94,647.96 L1227.23,649.94 L1227.51,651.91 L1227.79,653.89 L1228.07,655.86 L1228.35,657.84 L1228.62,659.81 L1228.89,661.79 L1229.16,663.77 L1229.43,665.75 L1229.69,667.72 L1229.94,669.70 L1230.20,671.68 L1230.45,673.66 L1230.70,675.64 L1230.95,677.62 L1231.19,679.60 L1231.43,681.58 L1231.66,683.56 L1231.90,685.54 L1232.12,687.53 L1232.35,689.51 L1232.57,691.49 L1232.79,693.47 L1233.01,695.46 L1233.23,697.44 L1233.44,699.42 L1233.64,701.41 L1233.85,703.39 L1234.05,705.38 L1234.25,707.36 L1234.44,709.35 L1234.63,711.33 L1234.82,713.32 L1235.01,715.31 L1235.19,717.29 L1235.37,719.28 L1235.55,721.27 L1235.72,723.26 L1235.89,725.24 L1236.05,727.23 L1236.22,729.22 L1236.38,731.21 L1236.53,733.20 L1236.69,735.19 L1236.84,737.18 L1236.98,739.17 L1237.13,741.16 L1237.27,743.15 L1237.41,745.14 L1237.54,747.13 L1237.67,749.12 L1237.80,751.11 L1237.92,753.10 L1238.05,755.09 L1238.16,757.09 L1238.28,759.08 L1238.39,761.07 L1238.50,763.06 L1238.60,765.06 L1238.71,767.05 L1238.81,769.04 L1238.90,771.04 L1238.99,773.03 L1239.08,775.02 L1239.17,777.02 L1239.25,779.01 L1239.33,781.01 L1239.41,783.00 L1239.48,785.00 L1239.55,786.99 L1239.61,788.99 L1239.68,790.98 L1239.74,792.98 L1239.79,794.97 L1239.85,796.97 L1239.90,798.96 L1239.94,800.96 L1239.99,802.96 L1240.03,804.95 L1240.06,806.95 L1240.10,808.95 L1240.13,810.94 L1240.15,812.94 L1240.18,814.94 L1240.20,816.93 L1240.22,818.93 L1240.23,820.93 L1240.24,822.93 L1240.25,824.92 L1240.25,826.92 L1240.25,828.92 L1240.25,830.92 L1240.24,832.92 L1240.23,834.91 L1240.22,836.91 L1240.21,838.91 L1240.19,840.91 L1240.16,842.91 L1240.14,844.91 L1240.11,846.90 L1240.08,848.90 L1240.04,850.90 L1240.00,852.90 L1239.37,854.22 L1238.74,855.60 L1238.10,857.00 L1237.43,858.41 L1236.74,859.77 L1236.01,861.06 L1235.25,862.25 L1234.44,863.29 L1233.57,864.16 L1232.65,864.83 L1231.66,865.25 L1230.60,865.40 L1229.13,864.90 L1227.71,863.53 L1226.33,861.46 L1224.97,858.87 L1223.63,855.92 L1222.30,852.80 L1220.97,849.68 L1219.63,846.73 L1218.27,844.14 L1216.89,842.07 L1215.47,840.70 L1214.00,840.20 L1212.84,840.62 L1211.72,841.78 L1210.63,843.53 L1209.56,845.72 L1208.50,848.21 L1207.45,850.85 L1206.40,853.49 L1205.34,855.98 L1204.27,858.17 L1203.18,859.92 L1202.06,861.08 L1200.90,861.50 L1199.25,861.07 L1197.64,859.86 L1196.08,858.05 L1194.56,855.77 L1193.05,853.19 L1191.55,850.45 L1190.05,847.71 L1188.54,845.13 L1187.02,842.85 L1185.46,841.04 L1183.85,839.83 L1182.20,839.40 L1180.91,839.84 L1179.66,841.07 L1178.44,842.92 L1177.25,845.23 L1176.07,847.86 L1174.90,850.65 L1173.73,853.44 L1172.55,856.07 L1171.36,858.38 L1170.14,860.23 L1168.89,861.46 L1167.60,861.90 L1166.26,861.51 L1164.95,860.43 L1163.69,858.81 L1162.44,856.77 L1161.22,854.45 L1160.00,852.00 L1158.78,849.55 L1157.56,847.23 L1156.31,845.19 L1155.05,843.57 L1153.74,842.49 L1152.40,842.10 L1151.36,842.50 L1150.35,843.60 L1149.36,845.26 L1148.40,847.34 L1147.45,849.70 L1146.50,852.20 L1145.55,854.70 L1144.60,857.06 L1143.64,859.14 L1142.65,860.80 L1141.64,861.90 L1140.60,862.30 L1139.26,861.91 L1137.95,860.83 L1136.69,859.21 L1135.44,857.17 L1134.22,854.85 L1133.00,852.40 L1131.78,849.95 L1130.56,847.63 L1129.31,845.59 L1128.05,843.97 L1126.74,842.89 L1125.40,842.50 L1124.23,842.86 L1123.10,843.87 L1122.00,845.39 L1120.92,847.30 L1119.86,849.46 L1118.80,851.75 L1117.74,854.04 L1116.68,856.20 L1115.60,858.11 L1114.50,859.63 L1113.37,860.64 L1112.20,861.00 L1111.10,860.61 L1110.04,859.53 L1109.01,857.91 L1107.99,855.87 L1106.99,853.55 L1106.00,851.10 L1105.01,848.65 L1104.01,846.33 L1102.99,844.29 L1101.96,842.67 L1100.90,841.59 L1099.80,841.20 L1098.98,841.57 L1098.18,842.58 L1097.41,844.11 L1096.64,846.02 L1095.89,848.20 L1095.15,850.50 L1094.41,852.80 L1093.66,854.98 L1092.89,856.89 L1092.12,858.42 L1091.32,859.43 L1090.50,859.80 L1087.40,854.20 L1087.10,852.16 L1086.83,850.12 L1086.57,848.10 L1086.33,846.08 L1086.11,844.07 L1085.90,842.06 L1085.71,840.06 L1085.54,838.06 L1085.38,836.07 L1085.23,834.08 L1085.10,832.10 L1084.98,830.12 L1084.87,828.14 L1084.77,826.16 L1084.68,824.19 L1084.60,822.22 L1084.52,820.25 L1084.46,818.27 L1084.40,816.30 L1084.34,814.33 L1084.29,812.36 L1084.24,810.38 L1084.20,808.41 L1084.15,806.43 L1084.11,804.45 L1084.07,802.46 L1084.03,800.47 L1083.98,798.48 L1083.94,796.48 L1083.88,794.48 L1083.83,792.47 L1083.76,790.46 L1083.67,788.45 L1083.57,786.43 L1083.46,784.40 L1083.31,782.38 L1083.15,780.35 L1082.95,778.31 L1082.72,776.27 L1082.46,774.23 L1082.16,772.19 L1081.82,770.15 L1081.44,768.10 L1081.01,766.05 L1080.53,764.01 L1080.02,761.97 L1079.45,759.94 L1078.85,757.93 L1078.20,755.94 L1077.50,753.96 L1076.76,752.01 L1075.97,750.08 L1075.13,748.18 L1074.25,746.32 L1073.33,744.49 L1072.35,742.70 L1071.34,740.96 L1070.27,739.26 L1069.16,737.61 L1068.00,736.01 L1066.80,734.47 L1065.54,732.98 L1064.25,731.56 L1062.90,730.21 L1061.50,728.92 L1060.06,727.70 L1058.57,726.56 L1057.03,725.50 L1055.45,724.52 L1053.81,723.63 L1052.13,722.82 L1050.40,722.11 L1048.62,721.48 L1046.81,720.94 L1044.95,720.48 L1043.06,720.10 L1041.14,719.80 L1039.19,719.58 L1037.21,719.43 L1035.22,719.35 L1033.20,719.34 L1031.17,719.39 L1029.13,719.51 L1027.08,719.69 L1025.03,719.93 L1022.98,720.23 L1020.92,720.57 L1018.88,720.97 L1016.84,721.42 L1014.81,721.91 L1012.80,722.45 L1010.81,723.03 L1008.84,723.64 L1006.89,724.30 L1004.96,724.99 L1003.05,725.71 L1001.17,726.46 L999.29,727.25 L997.44,728.07 L995.60,728.91 L993.78,729.78 L991.97,730.68 L990.18,731.60 L988.40,732.55 L986.63,733.51 L984.88,734.50 L983.13,735.50 L981.40,736.52 L979.67,737.56 L977.95,738.61 L976.24,739.67 L974.54,740.74 L972.84,741.83 L971.15,742.92 L969.46,744.02 L967.78,745.12 L966.10,746.23 L964.42,747.34 L962.74,748.45 L961.07,749.56 L959.39,750.67 L957.71,751.77 L956.03,752.88 L954.34,753.97 L952.66,755.06 L950.97,756.14 L949.27,757.20 L947.56,758.26 L945.85,759.30 L944.14,760.33 L942.41,761.34 L940.67,762.34 L938.93,763.31 L937.17,764.26 L935.40,765.20 L933.62,766.11 L931.83,766.99 L930.02,767.85 L928.20,768.68 L926.36,769.48 L924.50,770.25 L922.63,770.99 L920.74,771.69 L918.83,772.37 L916.90,773.00 L915.94,773.28 L914.99,773.59 L914.04,773.92 L913.09,774.22 L912.12,774.49 L911.14,774.71 L910.15,774.83 L909.15,774.83 L908.16,774.70 L907.20,774.43 L906.29,774.02 L905.48,773.43 L904.88,772.63 L904.65,771.67 L904.80,770.68 L905.18,769.76 L905.69,768.90 L906.25,768.07 L906.85,767.27 L907.47,766.48 L908.09,765.69 L908.71,764.91 L909.33,764.12 L909.94,763.33 L910.52,762.51 L911.07,761.68 L911.60,760.83 L912.11,759.97 L912.61,759.10 L913.08,758.21 L913.51,757.31 L913.84,756.37 L913.92,755.38 L913.50,754.49 L912.64,754.01 L911.65,753.86 L910.65,753.87 L909.65,753.96 L908.66,754.10 L907.67,754.26 L906.69,754.45 L905.71,754.64 L904.73,754.85 L903.75,755.06 L902.77,755.27 L901.79,755.49 L900.82,755.71 L899.84,755.93 L898.86,756.15 L897.88,756.36 L896.91,756.57 L895.93,756.77 L894.94,756.97 L893.96,757.14 L892.97,757.30 L891.98,757.43 L890.98,757.52 L889.98,757.54 L888.98,757.48 L887.99,757.32 L887.04,757.03 L886.16,756.55 L885.47,755.83 L885.11,754.90 L885.08,753.91 L885.26,752.92 L885.57,751.97 L885.95,751.05 L886.37,750.14 L886.81,749.24 L887.26,748.34 L887.71,747.45 L888.17,746.56 L888.62,745.66 L889.06,744.77 L889.48,743.86 L889.88,742.94 L890.27,742.02 L890.66,741.09 L891.05,740.17 L891.44,739.25 L891.79,738.31 L892.05,737.35 L892.12,736.35 L891.85,735.40 L891.20,734.65 L890.31,734.19 L889.35,733.92 L888.36,733.77 L887.36,733.69 L886.36,733.65 L885.36,733.63 L884.36,733.63 L883.36,733.65 L882.36,733.68 L881.36,733.70 L880.36,733.73 L879.35,733.76 L878.35,733.78 L877.35,733.79 L876.35,733.78 L875.35,733.74 L874.35,733.65 L873.36,733.51 L872.38,733.31 L871.42,733.02 L870.51,732.61 L869.75,731.97 L869.43,731.04 L869.65,730.07 L870.17,729.22 L870.81,728.45 L871.50,727.72 L872.21,727.02 L872.94,726.33 L873.67,725.65 L874.41,724.97 L875.14,724.29 L875.87,723.60 L876.58,722.90 L877.27,722.18 L877.94,721.43 L878.58,720.66 L879.18,719.85 L879.73,719.02 L880.26,718.17 L880.76,717.31 L881.25,716.43 L881.70,715.54 L882.12,714.63 L882.48,713.69 L882.73,712.73 L882.80,711.73 L882.54,710.77 L881.87,710.04 L880.97,709.63 L879.98,709.45 L878.98,709.40 L877.98,709.43 L876.98,709.51 L875.99,709.61 L874.99,709.74 L874.00,709.88 L873.01,710.03 L872.03,710.19 L871.04,710.36 L870.05,710.53 L869.07,710.70 L868.08,710.87 L867.09,711.05 L866.11,711.22 L865.12,711.39 L864.13,711.55 L863.14,711.70 L862.15,711.84 L861.16,711.97 L860.16,712.06 L859.16,712.11 L858.16,712.10 L857.16,712.00 L856.19,711.79 L855.26,711.42 L854.45,710.84 L853.89,710.02 L853.70,709.04 L853.79,708.05 L854.05,707.08 L854.41,706.15 L854.81,705.23 L855.25,704.33 L855.71,703.44 L856.19,702.56 L856.67,701.68 L857.16,700.81 L857.65,699.94 L858.15,699.07 L858.64,698.20 L859.12,697.32 L859.60,696.44 L860.07,695.56 L860.52,694.66 L860.98,693.77 L861.45,692.89 L861.92,692.01 L862.39,691.12 L862.82,690.22 L863.13,689.27 L863.13,688.28 L862.56,687.48 L861.64,687.11 L860.64,687.01 L859.64,687.03 L858.65,687.13 L857.66,687.26 L856.67,687.42 L855.68,687.60 L854.70,687.78 L853.71,687.98 L852.73,688.18 L851.75,688.38 L850.77,688.59 L849.80,688.80 L848.82,689.01 L847.84,689.22 L846.86,689.43 L845.88,689.64 L844.90,689.84 L843.92,690.03 L842.93,690.21 L841.94,690.38 L840.95,690.53 L839.96,690.65 L838.96,690.73 L837.96,690.75 L836.96,690.69 L835.98,690.53 L835.02,690.24 L834.13,689.77 L833.44,689.06 L833.13,688.12 L833.20,687.13 L833.52,686.19 L833.97,685.29 L834.47,684.42 L834.99,683.57 L835.52,682.71 L836.03,681.86 L836.53,680.99 L837.03,680.12 L837.54,679.26 L838.06,678.40 L838.59,677.55 L839.13,676.71 L839.67,675.86 L840.20,675.02 L840.72,674.16 L841.23,673.30 L841.69,672.41 L842.09,671.49 L842.35,670.53 L842.35,669.53 L841.94,668.64 L841.14,668.04 L840.20,667.70 L839.22,667.53 L838.22,667.44 L837.22,667.41 L836.22,667.40 L835.22,667.41 L834.22,667.44 L833.22,667.51 L832.22,667.62 L831.23,667.77 L830.25,667.96 L829.27,668.17 L828.29,668.37 L827.31,668.55 L826.31,668.68 L825.31,668.73 L824.32,668.65 L823.35,668.42 L822.43,668.02 L821.58,667.48 L820.80,666.86 L820.08,666.16 L819.40,665.43 L818.72,664.70Z" fill="#b11e00" stroke="#000" stroke-width="2.5" stroke-linejoin="round"/>
<path d="M316.60,856.60 L317.51,856.19 L318.43,855.78 L319.34,855.38 L320.26,854.97 L321.18,854.57 L322.09,854.17 L323.01,853.77 L323.93,853.37 L324.85,852.97 L325.76,852.58 L326.68,852.18 L327.60,851.78 L328.52,851.39 L329.44,851.00 L330.36,850.61 L331.29,850.22 L332.21,849.83 L333.13,849.44 L334.05,849.05 L334.97,848.67 L335.90,848.28 L336.82,847.90 L337.75,847.52 L338.67,847.14 L339.59,846.76 L340.52,846.38 L341.45,846.00 L342.37,845.62 L343.30,845.24 L344.22,844.87 L345.15,844.49 L346.08,844.12 L347.01,843.75 L347.94,843.38 L348.86,843.00 L349.79,842.64 L350.72,842.27 L351.65,841.90 L352.58,841.53 L353.51,841.17 L354.44,840.80 L355.37,840.44 L356.31,840.07 L357.24,839.71 L358.17,839.35 L359.10,838.99 L360.03,838.63 L360.97,838.27 L361.90,837.91 L362.83,837.56 L363.77,837.20 L364.70,836.84 L365.64,836.49 L366.57,836.13 L367.51,835.78 L368.44,835.43 L369.38,835.08 L370.32,834.73 L371.25,834.38 L372.19,834.03 L373.13,833.68 L374.06,833.33 L375.00,832.99 L375.94,832.64 L376.88,832.29 L377.82,831.95 L378.76,831.61 L379.69,831.26 L380.63,830.92 L381.57,830.58 L382.51,830.24 L383.45,829.90 L384.39,829.56 L385.33,829.22 L386.28,828.88 L387.22,828.54 L388.16,828.20 L389.10,827.87 L390.04,827.53 L390.98,827.20 L391.93,826.86 L392.87,826.53 L393.81,826.19 L394.75,825.86 L395.70,825.53 L396.64,825.20 L397.59,824.87 L398.53,824.54 L399.47,824.21 L400.42,823.88 L401.36,823.55 L402.31,823.22 L403.25,822.89 L404.20,822.56 L405.14,822.24 L406.09,821.91 L407.03,821.58 L407.98,821.26 L408.93,820.93 L409.87,820.61 L410.82,820.28 L411.76,819.96 L412.71,819.64 L413.66,819.32 L414.61,818.99 L415.55,818.67 L416.50,818.35 L417.45,818.03 L418.40,817.71 L419.34,817.39 L420.29,817.07 L421.24,816.75 L422.19,816.43 L423.14,816.11 L424.09,815.79 L425.03,815.48 L425.98,815.16 L426.93,814.84 L427.88,814.52 L428.83,814.21 L429.78,813.89 L430.73,813.57 L431.68,813.26 L432.63,812.94 L433.58,812.63 L434.53,812.31 L435.48,812.00 L436.43,811.68 L437.38,811.37 L438.33,811.06 L439.28,810.74 L440.23,810.43 L441.18,810.12 L442.13,809.80 L443.08,809.49 L444.03,809.18 L444.98,808.87 L445.93,808.55 L446.89,808.24 L447.84,807.93 L448.79,807.62 L449.74,807.31 L450.69,806.99 L451.64,806.68 L452.59,806.37 L453.54,806.06 L454.50,805.75 L455.45,805.44 L456.40,805.13 L457.35,804.82 L458.30,804.51 L459.25,804.20 L460.21,803.89 L461.16,803.58 L462.11,803.27 L463.06,802.96 L464.01,802.65 L464.96,802.34 L465.92,802.03 L466.87,801.72 L467.82,801.41 L468.77,801.10 L469.72,800.79 L470.68,800.48 L471.63,800.17 L472.58,799.86 L473.53,799.55 L474.48,799.24 L475.43,798.93 L476.39,798.62 L477.34,798.31 L478.29,798.00 L479.24,797.69 L480.19,797.38 L481.14,797.06 L482.10,796.75 L483.05,796.44 L484.00,796.13 L484.95,795.82 L485.90,795.51 L486.85,795.20 L487.80,794.89 L488.76,794.58 L489.71,794.26 L490.66,793.95 L491.61,793.64 L492.56,793.33 L493.51,793.02 L494.46,792.70 L495.41,792.39 L496.36,792.08 L497.31,791.76 L498.26,791.45 L499.21,791.14 L500.16,790.82 L501.12,790.51 L502.07,790.19 L503.02,789.88 L503.97,789.56 L504.91,789.25 L505.86,788.93 L506.81,788.62 L507.76,788.30 L508.71,787.98 L509.66,787.67 L510.61,787.35 L511.56,787.03 L512.51,786.71 L513.46,786.40 L514.41,786.08 L515.35,785.76 L516.30,785.44 L517.25,785.12 L518.20,784.80 L519.15,784.48 L520.09,784.16 L521.04,783.84 L521.99,783.52 L522.94,783.19 L523.88,782.87 L524.83,782.55 L525.78,782.22 L526.72,781.90 L527.67,781.58 L528.62,781.25 L529.56,780.93 L530.51,780.60 L531.45,780.27 L532.40,779.95 L533.35,779.62 L534.29,779.29 L535.24,778.97 L536.18,778.64 L537.12,778.31 L538.07,777.98 L539.01,777.65 L539.96,777.32 L540.90,776.98 L541.84,776.65 L542.79,776.32 L543.73,775.99 L544.67,775.65 L545.62,775.32 L546.56,774.98 L547.50,774.65 L548.44,774.31 L549.38,773.97 L550.32,773.64 L551.27,773.30 L552.21,772.96 L553.15,772.62 L554.09,772.28 L555.03,771.94 L555.97,771.60 L556.91,771.25 L557.85,770.91 L558.78,770.57 L559.72,770.22 L560.66,769.88 L561.60,769.53 L562.54,769.19 L563.48,768.84 L564.41,768.49 L565.35,768.14 L566.29,767.79 L567.22,767.44 L568.16,767.09 L569.10,766.74 L570.03,766.39 L570.97,766.03 L571.90,765.68 L572.84,765.32 L573.77,764.97 L574.70,764.61 L575.64,764.25 L576.57,763.89 L577.50,763.54 L578.44,763.18 L579.37,762.82 L580.30,762.45 L581.23,762.09 L582.17,761.73 L583.10,761.37 L584.03,761.00 L584.96,760.64 L585.89,760.27 L586.82,759.90 L587.75,759.54 L588.68,759.17 L589.61,758.80 L590.54,758.43 L591.47,758.06 L592.40,757.69 L593.33,757.32 L594.25,756.95 L595.18,756.58 L596.11,756.20 L597.04,755.83 L597.96,755.46 L598.89,755.08 L599.82,754.70 L600.75,754.33 L601.67,753.95 L602.60,753.57 L603.52,753.20 L604.45,752.82 L605.37,752.44 L606.30,752.06 L607.22,751.68 L608.15,751.30 L609.07,750.91 L610.00,750.53 L610.92,750.15 L611.85,749.76 L612.77,749.38 L613.69,749.00 L614.62,748.61 L615.54,748.22 L616.46,747.84 L617.38,747.45 L618.31,747.06 L619.23,746.68 L620.15,746.29 L621.07,745.90 L621.99,745.51 L622.92,745.12 L623.84,744.73 L624.76,744.34 L625.68,743.95 L626.60,743.56 L627.52,743.16 L628.44,742.77 L629.36,742.38 L630.28,741.98 L631.20,741.59 L632.12,741.19 L633.04,740.80 L633.96,740.40 L634.88,740.01 L635.80,739.61 L636.71,739.21 L637.63,738.82 L638.55,738.42 L639.47,738.02 L640.39,737.62 L641.30,737.22 L642.22,736.82 L643.14,736.42 L644.06,736.02 L644.97,735.62 L645.89,735.22 L646.81,734.82 L647.73,734.42 L648.64,734.02 L649.56,733.62 L650.48,733.21 L651.39,732.81 L652.31,732.41 L653.22,732.00 L654.14,731.60 L655.06,731.19 L655.97,730.79 L656.89,730.38 L657.80,729.98 L658.72,729.57 L659.63,729.17 L660.55,728.76 L661.46,728.36 L662.38,727.95 L663.29,727.54 L664.21,727.13 L665.12,726.73 L666.04,726.32 L666.95,725.91 L667.87,725.50 L668.78,725.09 L669.69,724.69 L670.61,724.28 L671.52,723.87 L672.44,723.46 L673.35,723.05 L674.26,722.64 L675.18,722.23 L676.09,721.82 L677.00,721.41 L677.92,721.00 L678.83,720.59 L679.74,720.18 L680.66,719.76 L681.57,719.35 L682.48,718.94 L683.40,718.53 L684.31,718.12 L685.22,717.71 L686.13,717.29 L687.05,716.88 L687.96,716.47 L688.87,716.06 L689.78,715.64 L690.70,715.23 L691.61,714.82 L692.52,714.40 L693.43,713.99 L694.35,713.58 L695.26,713.16 L696.17,712.75 L697.08,712.34 L698.00,711.92 L698.91,711.51 L699.82,711.10 L700.73,710.68 L701.64,710.27 L702.56,709.86 L703.47,709.44 L704.38,709.03 L705.29,708.61 L706.20,708.20 L707.12,707.79 L708.03,707.37 L708.94,706.96 L709.85,706.54 L710.76,706.13 L711.68,705.72 L712.59,705.30 L713.50,704.89 L714.41,704.47 L715.32,704.06 L716.24,703.65 L717.15,703.23 L718.06,702.82 L718.97,702.40 L719.88,701.99 L720.80,701.58 L721.71,701.16 L722.62,700.75 L723.53,700.34 L724.44,699.92 L725.36,699.51 L726.27,699.10 L727.18,698.68 L728.09,698.27 L729.01,697.86 L729.92,697.44 L730.83,697.03 L731.74,696.62 L732.65,696.21 L733.57,695.79 L734.48,695.38 L735.39,694.97 L736.31,694.56 L737.22,694.14 L738.13,693.73 L739.04,693.32 L739.96,692.91 L740.87,692.50 L741.78,692.09 L742.70,691.68 L743.61,691.27 L744.52,690.86 L745.43,690.45 L746.35,690.04 L747.26,689.63 L748.17,689.22 L749.09,688.81 L750.00,688.40 L750.92,687.99 L751.83,687.58 L752.74,687.17 L753.66,686.76 L754.57,686.35 L755.49,685.95 L756.40,685.54 L757.31,685.13 L758.23,684.73 L759.14,684.32 L760.06,683.91 L760.97,683.51 L761.89,683.10 L762.80,682.69 L763.72,682.29 L764.63,681.88 L765.55,681.48 L766.46,681.08 L767.38,680.67 L768.30,680.27 L769.21,679.86 L770.13,679.46 L771.04,679.06 L771.96,678.66 L772.88,678.26 L773.79,677.85 L774.71,677.45 L775.63,677.05 L776.54,676.65 L777.46,676.25 L778.38,675.85 L779.29,675.45 L780.21,675.05 L781.13,674.65 L782.05,674.26 L782.96,673.86 L783.88,673.46 L784.80,673.06 L785.72,672.67 L786.64,672.27 L787.56,671.88 L788.47,671.48 L789.39,671.09 L790.31,670.69 L791.23,670.30 L792.15,669.91 L793.07,669.51 L793.99,669.12 L794.91,668.73 L795.83,668.34 L796.75,667.95 L797.67,667.56 L798.59,667.17 L799.51,666.78 L800.44,666.39 L801.36,666.00 L802.28,665.61 L803.20,665.22 L804.12,664.84 L805.04,664.45 L805.97,664.07 L806.89,663.68 L807.81,663.30 L808.73,662.91 L809.66,662.53 L810.58,662.15 L811.50,661.76 L812.43,661.38 L813.35,661.00 L814.28,660.62 L815.20,660.24 L816.13,659.86 L817.05,659.48 L817.98,659.10 L818.90,658.73 L819.83,658.35 L820.75,657.97 L821.68,657.60 L822.60,657.22 L823.53,656.85 L824.46,656.47 L825.38,656.10 L826.31,655.73 L827.24,655.36 L828.17,654.99 L829.10,654.62 L830.02,654.25 L830.95,653.88 L831.88,653.51 L832.81,653.14 L833.74,652.77 L834.67,652.41 L835.60,652.04 L836.53,651.68 L837.46,651.31 L838.39,650.95 L839.32,650.59 L840.25,650.22 L841.18,649.86 L842.11,649.50 L843.05,649.14 L843.98,648.78 L844.91,648.43 L845.84,648.07 L846.78,647.71 L847.71,647.36 L848.64,647.00 L849.58,646.65 L850.51,646.29 L851.45,645.94 L852.38,645.59 L853.32,645.24 L854.25,644.89 L855.19,644.54 L856.12,644.19 L857.06,643.84 L858.00,643.50 L857.17,644.08 L856.33,644.65 L855.49,645.22 L854.65,645.78 L853.81,646.34 L852.97,646.89 L852.12,647.44 L851.27,647.98 L850.42,648.51 L849.56,649.05 L848.70,649.57 L847.84,650.09 L846.98,650.61 L846.12,651.12 L845.25,651.63 L844.39,652.13 L843.52,652.63 L842.64,653.13 L841.77,653.62 L840.90,654.11 L840.02,654.59 L839.14,655.07 L838.26,655.54 L837.38,656.02 L836.49,656.48 L835.61,656.95 L834.72,657.41 L833.83,657.87 L832.94,658.33 L832.05,658.78 L831.16,659.23 L830.26,659.67 L829.36,660.12 L828.47,660.56 L827.57,661.00 L826.67,661.43 L825.77,661.87 L824.87,662.30 L823.97,662.73 L823.06,663.15 L822.16,663.58 L821.25,664.00 L820.35,664.42 L819.44,664.84 L818.53,665.26 L817.62,665.68 L816.71,666.09 L815.80,666.51 L814.89,666.92 L813.98,667.33 L813.07,667.74 L812.16,668.15 L811.24,668.56 L810.33,668.97 L809.42,669.38 L808.50,669.78 L807.59,670.19 L806.67,670.60 L805.76,671.00 L804.85,671.41 L803.93,671.81 L803.02,672.22 L802.10,672.62 L801.19,673.03 L800.27,673.43 L799.36,673.84 L798.44,674.25 L797.53,674.66 L796.62,675.06 L795.70,675.47 L794.79,675.88 L793.88,676.29 L792.96,676.70 L792.05,677.12 L791.14,677.53 L790.23,677.95 L789.32,678.36 L788.41,678.78 L787.50,679.20 L786.59,679.62 L785.69,680.05 L784.78,680.47 L783.87,680.90 L782.97,681.33 L782.06,681.76 L781.16,682.20 L780.26,682.63 L779.36,683.07 L778.46,683.51 L777.56,683.96 L776.66,684.40 L775.77,684.85 L774.87,685.31 L773.98,685.76 L773.09,686.22 L772.20,686.68 L771.31,687.15 L770.42,687.62 L769.53,688.09 L768.65,688.57 L767.76,689.05 L766.88,689.53 L766.00,690.02 L765.12,690.50 L764.25,691.00 L763.37,691.49 L762.49,691.99 L761.62,692.49 L760.75,692.99 L759.88,693.50 L759.01,694.00 L758.14,694.51 L757.27,695.03 L756.40,695.54 L755.53,696.05 L754.67,696.57 L753.80,697.09 L752.94,697.61 L752.07,698.13 L751.21,698.66 L750.35,699.18 L749.49,699.71 L748.63,700.23 L747.77,700.76 L746.90,701.29 L746.05,701.82 L745.19,702.35 L744.33,702.88 L743.47,703.41 L742.61,703.94 L741.75,704.47 L740.89,705.00 L740.03,705.53 L739.18,706.06 L738.32,706.60 L737.46,707.13 L736.60,707.66 L735.74,708.18 L734.88,708.71 L734.02,709.24 L733.17,709.77 L732.31,710.29 L731.45,710.82 L730.59,711.34 L729.73,711.86 L728.87,712.38 L728.00,712.90 L727.14,713.42 L726.28,713.93 L725.42,714.45 L724.55,714.96 L723.69,715.47 L722.82,715.97 L721.96,716.48 L721.09,716.98 L720.22,717.48 L719.35,717.98 L718.48,718.47 L717.61,718.96 L716.74,719.45 L715.87,719.94 L714.99,720.42 L714.12,720.90 L713.24,721.37 L712.36,721.84 L711.48,722.31 L710.60,722.78 L709.72,723.24 L708.84,723.69 L707.95,724.15 L707.06,724.60 L706.18,725.04 L705.29,725.48 L704.39,725.92 L703.50,726.35 L702.61,726.77 L701.71,727.19 L700.81,727.61 L699.91,728.02 L699.01,728.43 L698.10,728.83 L697.20,729.22 L696.29,729.62 L695.38,730.00 L694.47,730.38 L693.55,730.76 L692.64,731.14 L691.72,731.50 L690.80,731.87 L689.88,732.23 L688.96,732.59 L688.04,732.94 L687.11,733.29 L686.19,733.63 L685.26,733.98 L684.33,734.32 L683.40,734.65 L682.47,734.98 L681.54,735.31 L680.60,735.64 L679.67,735.96 L678.73,736.28 L677.79,736.60 L676.85,736.91 L675.91,737.22 L674.97,737.53 L674.03,737.84 L673.09,738.14 L672.14,738.44 L671.20,738.75 L670.25,739.04 L669.31,739.34 L668.36,739.64 L667.41,739.93 L666.46,740.22 L665.51,740.51 L664.56,740.80 L663.61,741.09 L662.66,741.37 L661.71,741.66 L660.76,741.94 L659.80,742.23 L658.85,742.51 L657.89,742.79 L656.94,743.07 L655.98,743.35 L655.03,743.63 L654.07,743.91 L653.12,744.20 L652.16,744.48 L651.20,744.76 L650.25,745.04 L649.29,745.32 L648.33,745.60 L647.38,745.88 L646.42,746.16 L645.46,746.44 L644.51,746.73 L643.55,747.01 L642.59,747.30 L641.63,747.58 L640.68,747.87 L639.72,748.15 L638.76,748.44 L637.81,748.73 L636.85,749.02 L635.89,749.31 L634.94,749.60 L633.98,749.89 L633.03,750.19 L632.07,750.48 L631.12,750.77 L630.16,751.07 L629.21,751.37 L628.25,751.67 L627.30,751.97 L626.35,752.27 L625.39,752.57 L624.44,752.87 L623.49,753.17 L622.54,753.48 L621.58,753.78 L620.63,754.09 L619.68,754.39 L618.73,754.70 L617.78,755.01 L616.83,755.32 L615.88,755.63 L614.93,755.94 L613.98,756.26 L613.03,756.57 L612.08,756.88 L611.13,757.20 L610.18,757.52 L609.23,757.83 L608.28,758.15 L607.34,758.47 L606.39,758.79 L605.44,759.11 L604.49,759.43 L603.55,759.75 L602.60,760.08 L601.65,760.40 L600.71,760.73 L599.76,761.05 L598.82,761.38 L597.87,761.71 L596.93,762.03 L595.98,762.36 L595.04,762.69 L594.09,763.02 L593.15,763.35 L592.20,763.68 L591.26,764.02 L590.32,764.35 L589.37,764.68 L588.43,765.02 L587.49,765.35 L586.54,765.69 L585.60,766.03 L584.66,766.37 L583.72,766.70 L582.77,767.04 L581.83,767.38 L580.89,767.72 L579.95,768.06 L579.01,768.40 L578.07,768.75 L577.13,769.09 L576.19,769.43 L575.25,769.78 L574.31,770.12 L573.37,770.47 L572.43,770.81 L571.49,771.16 L570.55,771.51 L569.61,771.85 L568.67,772.20 L567.73,772.55 L566.79,772.90 L565.85,773.25 L564.91,773.60 L563.97,773.95 L563.04,774.30 L562.10,774.66 L561.16,775.01 L560.22,775.36 L559.29,775.71 L558.35,776.07 L557.41,776.42 L556.47,776.78 L555.54,777.13 L554.60,777.49 L553.66,777.85 L552.73,778.20 L551.79,778.56 L550.85,778.92 L549.92,779.28 L548.98,779.63 L548.05,779.99 L547.11,780.35 L546.17,780.71 L545.24,781.07 L544.30,781.43 L543.37,781.79 L542.43,782.15 L541.50,782.52 L540.56,782.88 L539.63,783.24 L538.69,783.60 L537.76,783.97 L536.82,784.33 L535.89,784.69 L534.95,785.06 L534.02,785.42 L533.08,785.79 L532.15,786.15 L531.22,786.51 L530.28,786.88 L529.35,787.25 L528.41,787.61 L527.48,787.98 L526.55,788.34 L525.61,788.71 L524.68,789.08 L523.75,789.44 L522.81,789.81 L521.88,790.18 L520.95,790.55 L520.01,790.91 L519.08,791.28 L518.15,791.65 L517.21,792.02 L516.28,792.39 L515.35,792.76 L514.41,793.12 L513.48,793.49 L512.55,793.86 L511.62,794.23 L510.68,794.60 L509.75,794.97 L508.82,795.34 L507.88,795.71 L506.95,796.08 L506.02,796.45 L505.09,796.82 L504.15,797.19 L503.22,797.56 L502.29,797.93 L501.36,798.30 L500.42,798.67 L499.49,799.04 L498.56,799.41 L497.63,799.78 L496.69,800.15 L495.76,800.52 L494.83,800.89 L493.90,801.26 L492.96,801.63 L492.03,802.00 L491.10,802.37 L490.17,802.74 L489.23,803.11 L488.30,803.48 L487.37,803.85 L486.44,804.22 L485.50,804.59 L484.57,804.96 L483.64,805.33 L482.71,805.70 L481.77,806.07 L480.84,806.44 L479.91,806.81 L478.97,807.18 L478.04,807.54 L477.11,807.91 L476.18,808.28 L475.24,808.65 L474.31,809.02 L473.38,809.39 L472.44,809.75 L471.51,810.12 L470.58,810.49 L469.64,810.86 L468.71,811.22 L467.78,811.59 L466.84,811.96 L465.91,812.32 L464.98,812.69 L464.04,813.06 L463.11,813.42 L462.18,813.79 L461.24,814.15 L460.31,814.52 L459.37,814.88 L458.44,815.25 L457.51,815.61 L456.57,815.97 L455.64,816.34 L454.70,816.70 L453.77,817.06 L452.83,817.43 L451.90,817.79 L450.96,818.15 L450.03,818.51 L449.09,818.87 L448.16,819.23 L447.22,819.59 L446.29,819.95 L445.35,820.31 L444.42,820.67 L443.48,821.03 L442.55,821.39 L441.61,821.75 L440.67,822.10 L439.74,822.46 L438.80,822.82 L437.87,823.17 L436.93,823.53 L435.99,823.88 L435.06,824.24 L434.12,824.59 L433.18,824.95 L432.24,825.30 L431.31,825.65 L430.37,826.00 L429.43,826.36 L428.49,826.71 L427.56,827.06 L426.62,827.41 L425.68,827.76 L424.74,828.11 L423.80,828.45 L422.86,828.80 L421.92,829.15 L420.98,829.49 L420.04,829.84 L419.10,830.18 L418.16,830.53 L417.22,830.87 L416.28,831.21 L415.34,831.55 L414.40,831.89 L413.46,832.23 L412.52,832.57 L411.58,832.91 L410.64,833.24 L409.69,833.58 L408.75,833.91 L407.81,834.24 L406.86,834.58 L405.92,834.91 L404.98,835.24 L404.03,835.56 L403.09,835.89 L402.14,836.22 L401.20,836.54 L400.25,836.86 L399.30,837.18 L398.36,837.50 L397.41,837.82 L396.46,838.14 L395.51,838.45 L394.56,838.77 L393.62,839.08 L392.67,839.39 L391.72,839.70 L390.77,840.01 L389.82,840.32 L388.86,840.62 L387.91,840.92 L386.96,841.22 L386.01,841.52 L385.05,841.82 L384.10,842.12 L383.15,842.41 L382.19,842.70 L381.24,842.99 L380.28,843.28 L379.32,843.57 L378.37,843.85 L377.41,844.13 L376.45,844.41 L375.49,844.69 L374.53,844.97 L373.57,845.24 L372.61,845.51 L371.65,845.78 L370.69,846.05 L369.73,846.32 L368.76,846.58 L367.80,846.84 L366.84,847.10 L365.87,847.36 L364.91,847.61 L363.94,847.86 L362.97,848.11 L362.00,848.36 L361.04,848.60 L360.07,848.84 L359.10,849.08 L358.13,849.32 L357.15,849.55 L356.18,849.78 L355.21,850.01 L354.24,850.24 L353.26,850.46 L352.29,850.68 L351.31,850.90 L350.33,851.12 L349.36,851.33 L348.38,851.54 L347.40,851.75 L346.42,851.95 L345.44,852.15 L344.46,852.35 L343.47,852.54 L342.49,852.74 L341.51,852.93 L340.52,853.11 L339.54,853.29 L338.55,853.47 L337.56,853.65 L336.57,853.83 L335.58,854.00 L334.59,854.16 L333.60,854.33 L332.61,854.49 L331.62,854.65 L330.62,854.80 L329.63,854.95 L328.63,855.10 L327.63,855.24 L326.64,855.38 L325.64,855.52 L324.64,855.66 L323.64,855.79 L322.63,855.91 L321.63,856.04 L320.63,856.16 L319.62,856.27 L318.62,856.39 L317.61,856.49 L316.60,856.60Z" fill="#000"/>
<path d="M466.50,820.30 L467.37,819.79 L468.24,819.29 L469.11,818.79 L469.99,818.30 L470.86,817.80 L471.73,817.31 L472.61,816.82 L473.49,816.33 L474.37,815.85 L475.25,815.37 L476.13,814.89 L477.01,814.41 L477.89,813.94 L478.78,813.47 L479.66,813.00 L480.55,812.53 L481.44,812.07 L482.33,811.61 L483.22,811.15 L484.11,810.69 L485.00,810.24 L485.89,809.78 L486.79,809.33 L487.68,808.89 L488.58,808.44 L489.47,808.00 L490.37,807.56 L491.27,807.12 L492.17,806.68 L493.07,806.25 L493.97,805.81 L494.87,805.38 L495.78,804.95 L496.68,804.53 L497.58,804.10 L498.49,803.68 L499.40,803.26 L500.30,802.84 L501.21,802.43 L502.12,802.01 L503.03,801.60 L503.94,801.19 L504.85,800.78 L505.77,800.37 L506.68,799.97 L507.59,799.56 L508.51,799.16 L509.43,798.76 L510.34,798.36 L511.26,797.97 L512.18,797.57 L513.10,797.18 L514.02,796.79 L514.94,796.40 L515.86,796.01 L516.78,795.62 L517.70,795.24 L518.62,794.86 L519.55,794.47 L520.47,794.09 L521.39,793.71 L522.32,793.34 L523.25,792.96 L524.17,792.59 L525.10,792.21 L526.03,791.84 L526.96,791.47 L527.89,791.10 L528.82,790.73 L529.75,790.37 L530.68,790.00 L531.61,789.64 L532.54,789.28 L533.47,788.91 L534.41,788.55 L535.34,788.19 L536.27,787.84 L537.21,787.48 L538.14,787.12 L539.08,786.77 L540.01,786.42 L540.95,786.06 L541.89,785.71 L542.82,785.36 L543.76,785.01 L544.70,784.66 L545.64,784.32 L546.58,783.97 L547.52,783.62 L548.46,783.28 L549.40,782.94 L550.34,782.59 L551.28,782.25 L552.22,781.91 L553.16,781.57 L554.10,781.23 L555.04,780.89 L555.98,780.55 L556.93,780.21 L557.87,779.88 L558.81,779.54 L559.76,779.20 L560.70,778.87 L561.64,778.53 L562.59,778.20 L563.53,777.87 L564.48,777.53 L565.42,777.20 L566.37,776.87 L567.31,776.54 L568.26,776.21 L569.20,775.88 L570.15,775.54 L571.10,775.21 L572.04,774.89 L572.99,774.56 L573.94,774.23 L574.88,773.90 L575.83,773.57 L576.78,773.24 L577.72,772.92 L578.67,772.59 L579.62,772.26 L580.56,771.93 L581.51,771.61 L582.46,771.28 L583.40,770.95 L584.35,770.63 L585.30,770.30 L586.25,769.97 L587.19,769.65 L588.14,769.32 L589.09,768.99 L590.04,768.67 L590.98,768.34 L591.93,768.01 L592.88,767.69 L593.82,767.36 L594.77,767.03 L595.72,766.71 L596.66,766.38 L597.61,766.05 L598.56,765.72 L599.50,765.40 L600.45,765.07 L601.40,764.74 L602.34,764.41 L603.29,764.08 L604.23,763.75 L605.18,763.42 L606.13,763.09 L607.07,762.76 L608.02,762.43 L608.96,762.10 L609.91,761.77 L610.85,761.43 L611.79,761.10 L612.74,760.77 L613.68,760.43 L614.62,760.10 L615.57,759.76 L616.51,759.43 L617.45,759.09 L618.39,758.75 L619.34,758.42 L620.28,758.08 L621.22,757.74 L622.16,757.40 L623.10,757.06 L624.04,756.72 L624.98,756.37 L625.92,756.03 L626.86,755.69 L627.80,755.34 L628.74,755.00 L629.67,754.65 L630.61,754.30 L631.55,753.95 L632.48,753.60 L633.42,753.25 L634.36,752.90 L635.29,752.55 L636.23,752.20 L637.16,751.84 L638.09,751.49 L639.03,751.13 L639.96,750.77 L640.89,750.41 L641.82,750.05 L642.76,749.69 L643.69,749.33 L644.62,748.96 L645.54,748.60 L646.47,748.23 L647.40,747.86 L648.33,747.49 L649.26,747.12 L650.18,746.75 L651.11,746.38 L652.03,746.00 L652.96,745.63 L653.88,745.25 L654.81,744.87 L655.73,744.49 L656.65,744.11 L657.57,743.73 L658.49,743.34 L659.41,742.95 L660.33,742.57 L661.25,742.18 L662.17,741.79 L663.08,741.39 L664.00,741.00 L663.19,741.59 L662.39,742.18 L661.57,742.77 L660.76,743.35 L659.95,743.93 L659.13,744.51 L658.32,745.09 L657.50,745.66 L656.68,746.23 L655.85,746.80 L655.03,747.36 L654.20,747.93 L653.37,748.49 L652.55,749.04 L651.71,749.60 L650.88,750.15 L650.05,750.70 L649.21,751.25 L648.37,751.79 L647.54,752.33 L646.69,752.87 L645.85,753.41 L645.01,753.94 L644.16,754.47 L643.32,755.00 L642.47,755.53 L641.62,756.05 L640.77,756.57 L639.91,757.09 L639.06,757.61 L638.20,758.12 L637.35,758.63 L636.49,759.14 L635.63,759.65 L634.76,760.15 L633.90,760.65 L633.04,761.15 L632.17,761.65 L631.30,762.15 L630.43,762.64 L629.56,763.13 L628.69,763.61 L627.82,764.10 L626.94,764.58 L626.07,765.06 L625.19,765.54 L624.31,766.02 L623.43,766.49 L622.55,766.96 L621.67,767.43 L620.78,767.90 L619.90,768.36 L619.01,768.82 L618.12,769.28 L617.23,769.74 L616.34,770.19 L615.45,770.65 L614.56,771.10 L613.66,771.55 L612.77,771.99 L611.87,772.44 L610.98,772.88 L610.08,773.32 L609.18,773.76 L608.28,774.19 L607.37,774.62 L606.47,775.06 L605.57,775.48 L604.66,775.91 L603.75,776.34 L602.84,776.76 L601.94,777.18 L601.03,777.60 L600.11,778.02 L599.20,778.43 L598.29,778.84 L597.37,779.25 L596.46,779.66 L595.54,780.07 L594.63,780.47 L593.71,780.87 L592.79,781.27 L591.87,781.67 L590.95,782.07 L590.02,782.46 L589.10,782.86 L588.18,783.25 L587.25,783.63 L586.32,784.02 L585.40,784.41 L584.47,784.79 L583.54,785.17 L582.61,785.55 L581.68,785.93 L580.75,786.30 L579.82,786.68 L578.88,787.05 L577.95,787.42 L577.01,787.78 L576.08,788.15 L575.14,788.51 L574.20,788.88 L573.27,789.24 L572.33,789.60 L571.39,789.95 L570.45,790.31 L569.51,790.66 L568.56,791.01 L567.62,791.36 L566.68,791.71 L565.73,792.06 L564.79,792.40 L563.84,792.75 L562.90,793.09 L561.95,793.43 L561.00,793.77 L560.05,794.10 L559.11,794.44 L558.16,794.77 L557.21,795.10 L556.26,795.43 L555.30,795.76 L554.35,796.09 L553.40,796.41 L552.45,796.74 L551.49,797.06 L550.54,797.38 L549.58,797.70 L548.63,798.02 L547.67,798.33 L546.72,798.65 L545.76,798.96 L544.80,799.27 L543.84,799.58 L542.89,799.89 L541.93,800.19 L540.97,800.50 L540.01,800.80 L539.05,801.10 L538.09,801.41 L537.13,801.70 L536.17,802.00 L535.20,802.30 L534.24,802.59 L533.28,802.89 L532.32,803.18 L531.35,803.47 L530.39,803.76 L529.42,804.05 L528.46,804.34 L527.50,804.62 L526.53,804.91 L525.57,805.19 L524.60,805.47 L523.63,805.75 L522.67,806.03 L521.70,806.31 L520.74,806.58 L519.77,806.86 L518.80,807.13 L517.83,807.40 L516.87,807.68 L515.90,807.95 L514.93,808.21 L513.96,808.48 L512.99,808.75 L512.03,809.01 L511.06,809.28 L510.09,809.54 L509.12,809.80 L508.15,810.06 L507.18,810.32 L506.21,810.58 L505.24,810.84 L504.27,811.09 L503.30,811.35 L502.33,811.60 L501.36,811.85 L500.39,812.11 L499.42,812.36 L498.46,812.61 L497.49,812.85 L496.52,813.10 L495.55,813.35 L494.58,813.59 L493.61,813.84 L492.64,814.08 L491.67,814.32 L490.70,814.56 L489.73,814.81 L488.76,815.04 L487.79,815.28 L486.82,815.52 L485.85,815.76 L484.88,815.99 L483.91,816.23 L482.94,816.46 L481.97,816.69 L481.01,816.92 L480.04,817.16 L479.07,817.39 L478.10,817.62 L477.13,817.84 L476.16,818.07 L475.20,818.30 L474.23,818.52 L473.26,818.75 L472.30,818.97 L471.33,819.20 L470.36,819.42 L469.40,819.64 L468.43,819.86 L467.47,820.08 L466.50,820.30Z" fill="#000"/>
<path d="M674.50,749.70 L675.39,749.25 L676.28,748.80 L677.17,748.34 L678.06,747.89 L678.94,747.43 L679.83,746.97 L680.72,746.51 L681.60,746.05 L682.49,745.59 L683.37,745.13 L684.26,744.66 L685.14,744.20 L686.03,743.73 L686.91,743.26 L687.79,742.80 L688.68,742.33 L689.56,741.86 L690.44,741.39 L691.32,740.91 L692.20,740.44 L693.09,739.97 L693.97,739.49 L694.85,739.02 L695.73,738.54 L696.61,738.06 L697.49,737.58 L698.37,737.10 L699.25,736.62 L700.12,736.14 L701.00,735.66 L701.88,735.18 L702.76,734.70 L703.64,734.22 L704.52,733.73 L705.39,733.25 L706.27,732.77 L707.15,732.28 L708.02,731.80 L708.90,731.31 L709.78,730.83 L710.66,730.34 L711.53,729.85 L712.41,729.37 L713.29,728.88 L714.16,728.39 L715.04,727.91 L715.92,727.42 L716.79,726.93 L717.67,726.44 L718.54,725.95 L719.42,725.47 L720.30,724.98 L721.17,724.49 L722.05,724.00 L722.93,723.51 L723.80,723.02 L724.68,722.54 L725.56,722.05 L726.43,721.56 L727.31,721.07 L728.19,720.59 L729.06,720.10 L729.94,719.61 L730.82,719.13 L731.70,718.64 L732.57,718.15 L733.45,717.67 L734.33,717.18 L735.21,716.70 L736.09,716.21 L736.97,715.73 L737.84,715.25 L738.72,714.76 L739.60,714.28 L740.48,713.80 L741.36,713.32 L742.24,712.84 L743.12,712.36 L744.00,711.88 L744.89,711.40 L745.77,710.92 L746.65,710.44 L747.53,709.97 L748.41,709.49 L749.30,709.02 L750.18,708.54 L751.06,708.07 L751.95,707.60 L752.83,707.13 L753.72,706.66 L754.60,706.19 L755.49,705.72 L756.37,705.25 L757.26,704.78 L758.15,704.32 L759.04,703.86 L759.92,703.39 L760.81,702.93 L761.70,702.47 L762.59,702.01 L763.48,701.55 L764.37,701.10 L765.26,700.64 L766.16,700.19 L767.05,699.74 L767.94,699.29 L768.84,698.84 L769.73,698.39 L770.62,697.94 L771.52,697.50 L772.42,697.05 L773.31,696.61 L774.21,696.17 L775.11,695.73 L776.01,695.29 L776.91,694.86 L777.81,694.43 L778.71,693.99 L779.61,693.56 L780.51,693.13 L781.42,692.71 L782.32,692.28 L783.23,691.86 L784.13,691.44 L785.04,691.02 L785.95,690.60 L786.86,690.19 L787.76,689.77 L788.67,689.36 L789.59,688.95 L790.50,688.54 L791.41,688.14 L792.32,687.74 L793.24,687.34 L794.15,686.94 L795.07,686.54 L795.99,686.15 L796.90,685.75 L797.82,685.36 L798.74,684.98 L799.66,684.59 L800.59,684.21 L801.51,683.83 L802.43,683.45 L803.36,683.08 L804.28,682.70 L805.21,682.33 L806.14,681.96 L807.07,681.60 L808.00,681.24 L808.93,680.88 L809.86,680.52 L810.80,680.16 L811.73,679.81 L812.67,679.46 L813.60,679.12 L814.54,678.77 L815.48,678.43 L816.42,678.09 L817.36,677.76 L818.31,677.42 L819.25,677.09 L820.20,676.77 L821.14,676.44 L822.09,676.12 L823.04,675.81 L823.99,675.49 L824.94,675.18 L825.89,674.87 L826.85,674.57 L827.80,674.26 L828.76,673.96 L829.72,673.67 L830.68,673.38 L831.64,673.09 L832.60,672.80 L831.77,673.36 L830.93,673.92 L830.10,674.47 L829.26,675.03 L828.43,675.58 L827.59,676.14 L826.75,676.69 L825.91,677.24 L825.07,677.79 L824.23,678.33 L823.39,678.88 L822.55,679.42 L821.70,679.97 L820.86,680.51 L820.01,681.05 L819.17,681.59 L818.32,682.12 L817.47,682.66 L816.63,683.19 L815.78,683.73 L814.93,684.26 L814.08,684.79 L813.22,685.32 L812.37,685.84 L811.52,686.37 L810.66,686.89 L809.81,687.42 L808.95,687.94 L808.10,688.46 L807.24,688.98 L806.38,689.50 L805.52,690.01 L804.66,690.53 L803.80,691.04 L802.94,691.55 L802.08,692.06 L801.21,692.57 L800.35,693.08 L799.49,693.59 L798.62,694.09 L797.75,694.59 L796.89,695.10 L796.02,695.60 L795.15,696.10 L794.28,696.59 L793.41,697.09 L792.54,697.58 L791.67,698.08 L790.80,698.57 L789.92,699.06 L789.05,699.55 L788.18,700.04 L787.30,700.52 L786.42,701.01 L785.55,701.49 L784.67,701.98 L783.79,702.46 L782.91,702.94 L782.03,703.41 L781.15,703.89 L780.27,704.37 L779.39,704.84 L778.50,705.31 L777.62,705.78 L776.74,706.25 L775.85,706.72 L774.97,707.19 L774.08,707.65 L773.19,708.12 L772.30,708.58 L771.42,709.04 L770.53,709.50 L769.64,709.96 L768.74,710.42 L767.85,710.87 L766.96,711.33 L766.07,711.78 L765.17,712.23 L764.28,712.68 L763.38,713.13 L762.49,713.58 L761.59,714.02 L760.69,714.47 L759.80,714.91 L758.90,715.35 L758.00,715.79 L757.10,716.23 L756.20,716.67 L755.30,717.11 L754.39,717.54 L753.49,717.97 L752.59,718.41 L751.68,718.84 L750.78,719.27 L749.87,719.69 L748.97,720.12 L748.06,720.54 L747.15,720.97 L746.25,721.39 L745.34,721.81 L744.43,722.23 L743.52,722.65 L742.61,723.06 L741.70,723.48 L740.78,723.89 L739.87,724.31 L738.96,724.72 L738.04,725.13 L737.13,725.53 L736.21,725.94 L735.30,726.35 L734.38,726.75 L733.46,727.15 L732.55,727.55 L731.63,727.95 L730.71,728.35 L729.79,728.75 L728.87,729.14 L727.95,729.54 L727.03,729.93 L726.10,730.32 L725.18,730.71 L724.26,731.10 L723.33,731.49 L722.41,731.87 L721.48,732.26 L720.56,732.64 L719.63,733.02 L718.71,733.40 L717.78,733.78 L716.85,734.16 L715.92,734.54 L714.99,734.91 L714.06,735.28 L713.13,735.65 L712.20,736.03 L711.27,736.39 L710.34,736.76 L709.40,737.13 L708.47,737.49 L707.54,737.86 L706.60,738.22 L705.67,738.58 L704.73,738.94 L703.79,739.30 L702.86,739.65 L701.92,740.01 L700.98,740.36 L700.04,740.71 L699.10,741.06 L698.16,741.41 L697.22,741.76 L696.28,742.11 L695.34,742.45 L694.40,742.80 L693.46,743.14 L692.51,743.48 L691.57,743.82 L690.63,744.16 L689.68,744.50 L688.74,744.83 L687.79,745.17 L686.85,745.50 L685.90,745.83 L684.95,746.16 L684.00,746.49 L683.06,746.82 L682.11,747.14 L681.16,747.47 L680.21,747.79 L679.26,748.11 L678.31,748.43 L677.36,748.75 L676.40,749.07 L675.45,749.38 L674.50,749.70Z" fill="#000"/>
<path d="M680.90,720.60 L711.10,710.90 L766.50,693.20 L715.40,712.50 L681.00,721.50Z" fill="#f0c870"/>
<line x1="931" y1="585.6" x2="1010.8" y2="723.1" stroke="#8890d0" stroke-width="0.9" opacity="0.38"/>
<g stroke="#000" stroke-width="2.2" fill="none">
<line x1="1060.6" y1="112.1" x2="980.3" y2="237"/>
<line x1="531" y1="592.4" x2="704" y2="766.5"/>
<line x1="337.8" y1="705.8" x2="437.8" y2="809.8"/>
</g>
<g font-family="Liberation Sans, sans-serif" font-size="36.5" fill="#000" opacity="0.999">
<text x="125.80" y="135" textLength="369.19" lengthAdjust="spacingAndGlyphs">blue: cloud free area</text>
<text x="881.40" y="87.9" textLength="341.01" lengthAdjust="spacingAndGlyphs">red: thick ice cloud</text>
<text x="277.40" y="580.9" textLength="492.40" lengthAdjust="spacingAndGlyphs">ochre: mid-level cloudiness</text>
<text x="129.00" y="695.2" textLength="417.20" lengthAdjust="spacingAndGlyphs">black: high cloud fibres</text>
</g>
</svg>
</body></html>
